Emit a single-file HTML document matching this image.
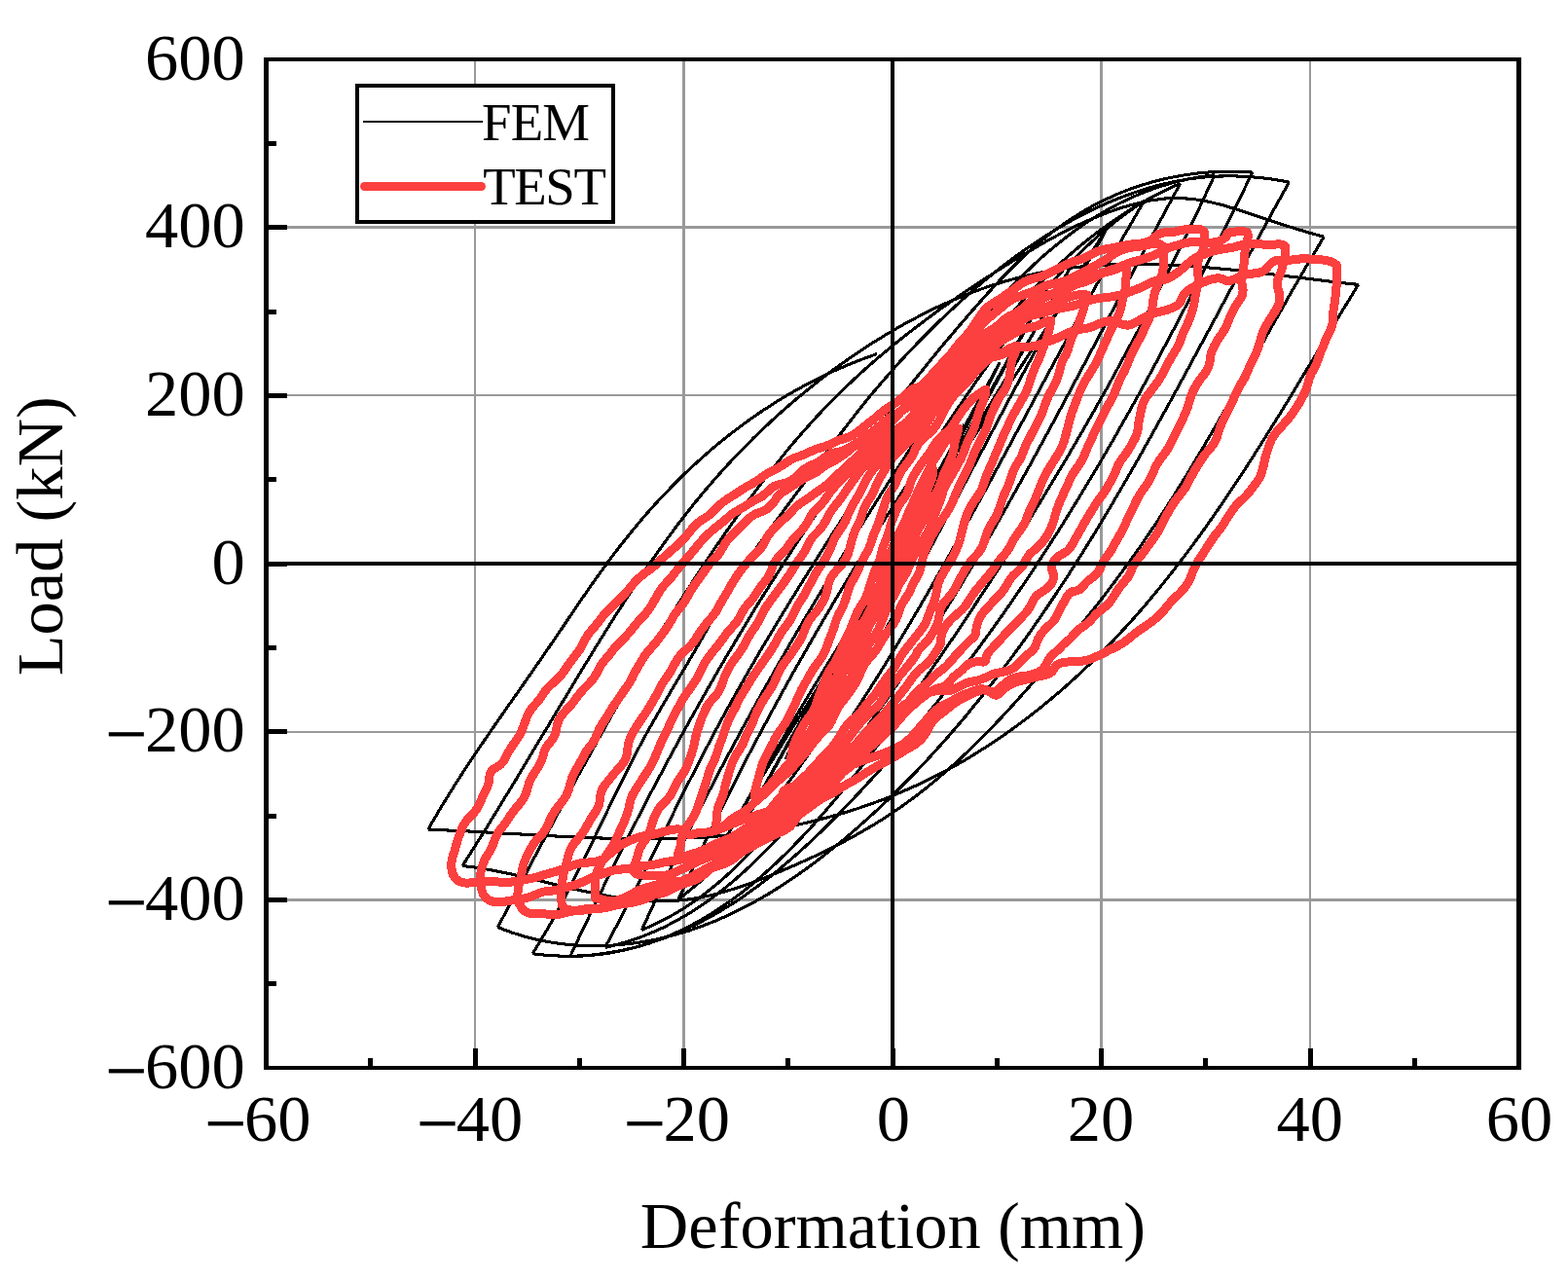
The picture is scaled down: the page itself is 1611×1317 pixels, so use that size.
<!DOCTYPE html>
<html><head><meta charset="utf-8"><title>Load-Deformation hysteresis: FEM vs TEST</title>
<style>
html,body{margin:0;padding:0;background:#fff;}
body{width:1611px;height:1317px;overflow:hidden;}
svg{display:block;}
text{font-family:"Liberation Serif","Times New Roman",serif;fill:#000;}
</style></head><body>
<svg width="1611" height="1317" viewBox="0 0 1611 1317">
<rect x="0" y="0" width="1611" height="1317" fill="#fff"/>
<path d="M488 61.0 V1097.0 M1346 61.0 V1097.0 M273.5 406 H1560.5 M273.5 752 H1560.5" stroke="#999999" stroke-width="2" fill="none"/>
<path d="M702.5 61.0 V1097.0 M1131.5 61.0 V1097.0 M273.5 233.5 H1560.5 M273.5 924.5 H1560.5" stroke="#999999" stroke-width="3" fill="none"/>
<path d="M917.0 579.0L953.8 506.0 M953.8 506.0L951.1 510.9L948.5 515.8L945.8 520.6L943.3 525.4L940.7 530.2L938.2 534.9L935.7 539.6L933.3 544.3L930.9 548.9L928.5 553.5L926.1 558.0L923.9 562.4L921.6 566.8L919.4 571.2L917.2 575.4L915.1 579.6L913.0 583.8L911.0 587.8L909.0 591.8L907.1 595.7L905.2 599.5L903.3 603.2L901.5 606.9L899.8 610.4L898.1 613.9L896.5 617.2L894.9 620.4L893.3 623.6L891.9 626.6L890.5 629.5L889.1 632.3L887.8 634.9L886.6 637.5L885.4 639.9L884.3 642.2L883.2 644.4L882.2 646.4L881.3 648.3L880.4 650.0 M880.4 650.0L884.3 642.7L888.2 635.4L892.1 628.2L895.9 621.0L899.7 613.9L903.5 606.8L907.2 599.8L910.8 592.9L914.4 586.0L917.9 579.2L921.4 572.5L924.9 565.9L928.3 559.3L931.6 552.9L934.8 546.6L938.0 540.3L941.2 534.2L944.3 528.2L947.3 522.3L950.2 516.5L953.1 510.8L955.9 505.3L958.6 499.9L961.2 494.7L963.8 489.6L966.3 484.7L968.7 479.9L971.0 475.2L973.3 470.8L975.4 466.4L977.5 462.3L979.5 458.4L981.3 454.6L983.1 451.0L984.8 447.6L986.4 444.4L987.9 441.4L989.3 438.6L990.6 436.0 M990.6 436.0L985.3 445.6L980.1 455.1L975.0 464.5L969.9 473.9L964.8 483.2L959.9 492.5L954.9 501.7L950.1 510.7L945.3 519.7L940.5 528.6L935.9 537.4L931.3 546.0L926.8 554.6L922.3 563.0L918.0 571.3L913.7 579.4L909.5 587.5L905.4 595.3L901.4 603.0L897.4 610.6L893.6 618.0L889.9 625.2L886.2 632.3L882.7 639.1L879.3 645.8L876.0 652.3L872.8 658.5L869.7 664.6L866.7 670.5L863.8 676.1L861.1 681.5L858.5 686.7L856.0 691.6L853.6 696.3L851.3 700.8L849.2 705.0L847.2 708.9L845.4 712.6L843.7 716.0 M843.7 716.0L850.1 704.2L856.5 692.4L862.8 680.7L869.0 669.1L875.2 657.6L881.4 646.2L887.5 634.9L893.5 623.7L899.5 612.7L905.4 601.7L911.2 591.0L916.9 580.3L922.6 569.8L928.1 559.5L933.6 549.3L939.0 539.3L944.3 529.5L949.4 519.8L954.5 510.4L959.5 501.1L964.3 492.1L969.0 483.2L973.6 474.6L978.1 466.2L982.5 458.0L986.7 450.1L990.7 442.4L994.7 435.0L998.5 427.9L1002.1 421.0L1005.6 414.3L1008.9 408.0L1012.1 401.9L1015.1 396.2L1017.9 390.7L1020.5 385.6L1023.0 380.7L1025.3 376.2L1027.4 372.0 M1027.4 372.0L1019.7 386.0L1012.0 400.0L1004.4 413.8L996.9 427.5L989.4 441.2L982.0 454.7L974.7 468.1L967.4 481.3L960.2 494.4L953.1 507.4L946.2 520.2L939.3 532.8L932.5 545.2L925.8 557.5L919.2 569.5L912.8 581.4L906.4 593.1L900.2 604.5L894.1 615.7L888.2 626.7L882.4 637.4L876.7 647.9L871.2 658.1L865.9 668.1L860.7 677.8L855.6 687.2L850.7 696.3L846.0 705.1L841.5 713.6L837.2 721.8L833.0 729.7L829.1 737.2L825.3 744.4L821.7 751.3L818.3 757.8L815.2 763.9L812.2 769.6L809.5 775.0L807.0 780.0 M807.0 780.0L815.7 764.0L824.3 748.0L833.0 732.2L841.6 716.5L850.1 701.0L858.6 685.6L867.1 670.4L875.4 655.4L883.7 640.5L891.9 625.8L900.1 611.3L908.1 597.0L916.0 582.9L923.9 569.1L931.6 555.4L939.2 542.0L946.6 528.9L954.0 516.0L961.2 503.3L968.2 490.9L975.1 478.8L981.8 467.0L988.3 455.5L994.7 444.3L1000.9 433.4L1006.9 422.8L1012.7 412.5L1018.3 402.6L1023.6 393.0L1028.8 383.8L1033.7 374.9L1038.4 366.4L1042.9 358.3L1047.1 350.6L1051.1 343.2L1054.7 336.3L1058.2 329.8L1061.3 323.7L1064.2 318.0 M1064.2 318.0L1054.3 336.0L1044.4 353.9L1034.5 371.6L1024.7 389.2L1014.9 406.6L1005.2 423.8L995.5 440.9L986.0 457.7L976.5 474.4L967.1 490.9L957.8 507.1L948.6 523.1L939.5 538.9L930.5 554.4L921.7 569.7L913.0 584.7L904.5 599.5L896.1 614.0L887.8 628.1L879.8 642.0L871.9 655.6L864.2 668.8L856.8 681.7L849.5 694.3L842.4 706.5L835.6 718.4L828.9 729.9L822.5 741.0L816.4 751.8L810.5 762.1L804.9 772.0L799.5 781.6L794.5 790.7L789.7 799.4L785.2 807.6L781.0 815.4L777.1 822.7L773.5 829.6L770.3 836.0 M770.3 836.0L781.1 816.2L791.8 796.5L802.6 777.0L813.4 757.7L824.2 738.7L834.9 719.8L845.6 701.1L856.3 682.7L866.9 664.5L877.4 646.5L887.8 628.8L898.2 611.4L908.4 594.2L918.5 577.3L928.5 560.7L938.4 544.4L948.1 528.4L957.6 512.7L967.0 497.4L976.2 482.3L985.2 467.7L994.0 453.3L1002.5 439.4L1010.9 425.7L1019.0 412.5L1026.8 399.7L1034.4 387.2L1041.7 375.2L1048.8 363.6L1055.5 352.4L1061.9 341.6L1068.0 331.3L1073.8 321.4L1079.3 311.9L1084.4 303.0L1089.1 294.5L1093.5 286.5L1097.4 279.0L1101.0 272.0 M1101.0 272.0L1089.1 293.6L1077.1 314.9L1065.2 336.1L1053.2 357.0L1041.2 377.8L1029.3 398.3L1017.4 418.5L1005.6 438.5L993.8 458.3L982.1 477.7L970.5 496.9L959.0 515.9L947.6 534.5L936.3 552.8L925.2 570.8L914.2 588.5L903.4 605.8L892.7 622.8L882.3 639.4L872.1 655.7L862.0 671.6L852.3 687.2L842.7 702.3L833.4 717.1L824.4 731.4L815.7 745.3L807.2 758.8L799.1 771.9L791.3 784.5L783.8 796.6L776.6 808.3L769.9 819.5L763.4 830.3L757.4 840.5L751.8 850.2L746.6 859.5L741.8 868.2L737.4 876.4L733.5 884.0 M733.5 884.0L746.1 860.8L758.9 837.8L771.7 815.1L784.5 792.6L797.4 770.4L810.3 748.5L823.2 726.9L836.1 705.5L848.9 684.4L861.7 663.7L874.5 643.3L887.1 623.1L899.7 603.4L912.1 583.9L924.4 564.8L936.6 546.1L948.6 527.8L960.4 509.8L972.0 492.2L983.4 474.9L994.6 458.1L1005.5 441.7L1016.2 425.7L1026.6 410.2L1036.7 395.0L1046.5 380.4L1055.9 366.1L1065.0 352.3L1073.8 339.0L1082.1 326.2L1090.1 313.8L1097.7 302.0L1104.8 290.6L1111.5 279.7L1117.7 269.4L1123.5 259.6L1128.7 250.3L1133.5 241.6L1137.7 233.4 M1137.7 233.4L1132.2 242.2L1126.8 251.1L1121.4 259.9L1116.0 268.8L1110.7 277.8L1105.5 286.7L1100.2 295.7L1095.0 304.7L1089.9 313.8L1084.7 322.8L1079.6 331.9L1074.5 341.0L1069.5 350.1L1064.5 359.3L1059.5 368.4L1054.5 377.6L1049.5 386.7L1044.6 395.9L1039.6 405.1L1034.7 414.3L1029.8 423.6L1024.9 432.8L1020.0 442.0L1015.1 451.3L1010.3 460.5L1005.4 469.8L1000.5 479.0L995.6 488.3L990.7 497.5L985.9 506.8L981.0 516.0L976.1 525.2L971.2 534.5L966.3 543.7L961.3 552.9L956.4 562.1L951.4 571.4L946.5 580.5L941.5 589.7L936.4 598.9L931.4 608.0L926.3 617.2L921.2 626.3L916.1 635.4L910.9 644.5L905.8 653.5L900.5 662.6L895.3 671.6L890.0 680.6L884.6 689.5L879.3 698.5L873.8 707.4L868.4 716.2L862.9 725.1L857.3 733.9L851.7 742.7L846.0 751.5L840.3 760.2L834.5 768.8L828.7 777.5L822.8 786.1L816.8 794.6L810.7 803.1L804.6 811.4L798.3 819.8L792.0 828.0L785.5 836.1L779.0 844.1L772.3 852.1L765.4 859.9L758.5 867.6L751.4 875.1L744.1 882.5L736.7 889.8L729.1 896.9L721.4 903.9L713.5 910.7L705.4 917.3L697.1 923.8 M697.1 923.8L701.6 913.8L706.2 903.8L710.8 893.8L715.5 883.9L720.2 874.0L724.9 864.0L729.7 854.1L734.5 844.3L739.4 834.4L744.3 824.6L749.2 814.7L754.1 804.9L759.1 795.1L764.2 785.3L769.2 775.6L774.3 765.8L779.5 756.1L784.7 746.4L789.9 736.7L795.1 727.0L800.4 717.4L805.7 707.7L811.0 698.1L816.4 688.5L821.8 678.9L827.3 669.3L832.7 659.8L838.2 650.2L843.8 640.7L849.4 631.2L855.0 621.7L860.6 612.2L866.3 602.8L871.9 593.3L877.7 583.9L883.4 574.5L889.2 565.1L895.0 555.8L900.9 546.4L906.7 537.1L912.6 527.8L918.6 518.5L924.5 509.2L930.5 499.9L936.5 490.7L942.5 481.4L948.6 472.2L954.7 463.0L960.8 453.8L966.9 444.7L973.1 435.5L979.3 426.4L985.5 417.3L991.8 408.2L998.0 399.1L1004.3 390.0L1010.6 381.0L1017.0 372.0L1023.4 363.0L1029.9 354.1L1036.4 345.3L1043.0 336.5L1049.7 327.8L1056.5 319.1L1063.4 310.6L1070.4 302.2L1077.5 293.9L1084.7 285.7L1092.1 277.7L1099.6 269.8L1107.3 262.0L1115.2 254.4L1123.2 247.0L1131.4 239.7L1139.8 232.7L1148.4 225.8L1157.2 219.2L1166.2 212.7L1175.5 206.5 M1175.5 206.5L1169.6 216.6L1163.8 226.7L1158.0 236.8L1152.2 246.9L1146.5 257.1L1140.8 267.2L1135.1 277.4L1129.4 287.6L1123.8 297.8L1118.1 308.0L1112.5 318.2L1106.9 328.5L1101.3 338.7L1095.8 349.0L1090.2 359.2L1084.7 369.5L1079.1 379.8L1073.6 390.0L1068.1 400.3L1062.5 410.6L1057.0 420.9L1051.5 431.2L1045.9 441.4L1040.4 451.7L1034.9 462.0L1029.3 472.3L1023.7 482.5L1018.2 492.8L1012.6 503.0L1007.0 513.3L1001.4 523.5L995.7 533.7L990.1 543.9L984.4 554.1L978.7 564.3L973.0 574.5L967.2 584.7L961.4 594.8L955.6 604.9L949.7 615.0L943.9 625.1L937.9 635.2L932.0 645.2L926.0 655.2L919.9 665.2L913.9 675.2L907.7 685.2L901.6 695.1L895.3 705.0L889.1 714.8L882.7 724.7L876.4 734.5L869.9 744.2L863.5 754.0L856.9 763.7L850.3 773.4L843.6 783.0L836.9 792.6L830.1 802.2L823.2 811.6L816.2 821.1L809.2 830.4L801.9 839.6L794.6 848.6L787.1 857.5L779.5 866.3L771.6 874.8L763.6 883.1L755.4 891.2L747.0 899.1L738.3 906.7L729.4 914.0L720.3 921.0L710.9 927.6L701.2 934.0L691.2 939.9L680.9 945.5L670.3 950.7L659.4 955.5 M659.4 955.5L664.4 944.4L669.5 933.3L674.7 922.2L679.9 911.2L685.1 900.2L690.3 889.3L695.7 878.3L701.0 867.4L706.4 856.5L711.8 845.6L717.3 834.8L722.8 824.0L728.4 813.2L734.0 802.4L739.6 791.6L745.3 780.9L751.0 770.2L756.8 759.5L762.5 748.8L768.4 738.2L774.2 727.6L780.1 716.9L786.1 706.3L792.0 695.8L798.0 685.2L804.1 674.7L810.2 664.1L816.3 653.6L822.4 643.1L828.6 632.6L834.8 622.2L841.0 611.7L847.3 601.3L853.6 590.8L860.0 580.4L866.3 570.0L872.7 559.6L879.1 549.2L885.6 538.8L892.1 528.5L898.6 518.1L905.1 507.8L911.7 497.4L918.3 487.1L925.0 476.8L931.7 466.5L938.4 456.3L945.2 446.1L952.1 436.0L959.0 425.9L966.0 415.8L973.1 405.9L980.3 396.0L987.5 386.2L994.8 376.4L1002.3 366.8L1009.8 357.2L1017.4 347.7L1025.1 338.4L1033.0 329.1L1040.9 320.0L1049.0 311.0L1057.2 302.1L1065.6 293.5L1074.1 284.9L1082.8 276.6L1091.6 268.4L1100.6 260.4L1109.8 252.6L1119.1 245.1L1128.7 237.7L1138.4 230.6L1148.4 223.8L1158.6 217.1L1168.9 210.8L1179.5 204.7L1190.4 199.0L1201.5 193.5L1212.8 188.3 M1212.8 188.3L1206.7 199.4L1200.7 210.6L1194.7 221.8L1188.7 233.0L1182.7 244.2L1176.7 255.4L1170.8 266.6L1164.8 277.9L1158.9 289.1L1152.9 300.4L1147.0 311.6L1141.0 322.9L1135.1 334.2L1129.2 345.4L1123.2 356.7L1117.3 367.9L1111.3 379.2L1105.3 390.4L1099.3 401.7L1093.3 412.9L1087.3 424.1L1081.3 435.4L1075.2 446.6L1069.1 457.8L1063.0 468.9L1056.9 480.1L1050.7 491.2L1044.5 502.4L1038.3 513.5L1032.0 524.6L1025.7 535.6L1019.4 546.7L1013.0 557.7L1006.5 568.7L1000.1 579.6L993.5 590.5L987.0 601.4L980.3 612.3L973.7 623.1L966.9 633.9L960.1 644.7L953.3 655.4L946.4 666.1L939.4 676.8L932.3 687.4L925.2 697.9L918.0 708.4L910.8 718.9L903.4 729.3L896.0 739.7L888.6 750.0L881.0 760.3L873.3 770.5L865.6 780.7L857.8 790.8L849.9 800.9L841.9 810.9L833.8 820.8L825.6 830.7L817.3 840.5L808.9 850.1L800.3 859.6L791.6 868.9L782.7 878.0L773.6 886.9L764.4 895.5L755.0 903.8L745.3 911.9L735.4 919.6L725.3 927.0L714.9 934.0L704.3 940.6L693.4 946.7L682.2 952.5L670.7 957.7L659.0 962.4L646.8 966.7L634.4 970.3L621.6 973.4 M621.6 973.4L627.9 961.8L634.0 950.2L640.1 938.5L646.2 926.7L652.2 915.0L658.1 903.2L664.1 891.4L669.9 879.5L675.8 867.7L681.7 855.9L687.6 844.0L693.4 832.2L699.3 820.3L705.2 808.5L711.2 796.7L717.2 785.0L723.2 773.2L729.4 761.5L735.5 749.9L741.8 738.3L748.1 726.7L754.5 715.2L761.0 703.7L767.5 692.3L774.1 680.9L780.7 669.5L787.4 658.2L794.2 646.9L801.0 635.6L807.8 624.4L814.7 613.2L821.6 602.0L828.6 590.8L835.6 579.6L842.6 568.5L849.7 557.3L856.8 546.2L863.9 535.1L871.0 524.0L878.2 512.9L885.3 501.7L892.5 490.6L899.7 479.6L907.0 468.5L914.3 457.5L921.6 446.4L929.0 435.5L936.5 424.6L944.1 413.7L951.7 402.9L959.5 392.1L967.3 381.4L975.2 370.8L983.3 360.3L991.5 349.9L999.8 339.6L1008.3 329.3L1016.9 319.2L1025.7 309.3L1034.6 299.5L1043.8 290.0L1053.1 280.6L1062.6 271.5L1072.3 262.7L1082.3 254.2L1092.4 246.0L1102.8 238.1L1113.4 230.6L1124.3 223.5L1135.4 216.8L1146.8 210.6L1158.5 204.8L1170.4 199.5L1182.7 194.8L1195.2 190.6L1207.9 186.9L1221.0 183.9L1234.4 181.5L1248.0 179.7 M1248.0 179.7L1242.2 192.2L1236.4 204.7L1230.6 217.2L1224.6 229.6L1218.7 242.0L1212.7 254.4L1206.6 266.7L1200.5 278.9L1194.3 291.1L1188.1 303.3L1181.9 315.5L1175.5 327.6L1169.2 339.7L1162.8 351.7L1156.3 363.7L1149.8 375.7L1143.3 387.7L1136.7 399.6L1130.0 411.5L1123.3 423.3L1116.6 435.1L1109.8 446.9L1102.9 458.7L1096.1 470.4L1089.1 482.1L1082.1 493.8L1075.1 505.4L1068.0 517.1L1060.9 528.7L1053.8 540.2L1046.5 551.8L1039.3 563.3L1032.0 574.8L1024.6 586.3L1017.2 597.7L1009.8 609.2L1002.3 620.6L994.8 632.0L987.2 643.3L979.6 654.7L971.9 666.0L964.2 677.3L956.4 688.6L948.6 699.9L940.8 711.2L932.9 722.4L924.9 733.6L916.9 744.8L908.8 755.9L900.7 767.0L892.4 778.0L884.0 789.0L875.6 799.8L866.9 810.6L858.2 821.2L849.3 831.7L840.3 842.1L831.1 852.3L821.7 862.4L812.1 872.2L802.4 881.8L792.4 891.2L782.2 900.3L771.9 909.1L761.3 917.5L750.5 925.5L739.4 933.1L728.1 940.3L716.6 947.1L704.8 953.3L692.8 959.0L680.4 964.2L667.8 968.8L654.9 972.7L641.7 976.1L628.3 978.7L614.5 980.7L600.3 981.9L585.9 982.4 M585.9 982.4L591.9 969.6L597.9 956.8L604.0 944.1L610.2 931.3L616.3 918.6L622.5 905.9L628.8 893.2L635.1 880.5L641.4 867.8L647.8 855.2L654.2 842.6L660.7 830.0L667.2 817.4L673.8 804.8L680.5 792.3L687.1 779.8L693.9 767.4L700.6 754.9L707.5 742.5L714.4 730.1L721.3 717.8L728.3 705.5L735.4 693.2L742.5 680.9L749.7 668.7L756.9 656.5L764.2 644.4L771.5 632.3L778.9 620.2L786.4 608.2L794.0 596.2L801.6 584.2L809.2 572.3L817.0 560.4L824.8 548.6L832.6 536.8L840.5 525.1L848.5 513.4L856.6 501.8L864.8 490.2L873.0 478.7L881.2 467.2L889.6 455.7L898.0 444.3L906.5 433.0L915.1 421.7L923.8 410.5L932.5 399.3L941.3 388.2L950.2 377.2L959.2 366.2L968.2 355.2L977.3 344.4L986.5 333.5L995.8 322.8L1005.2 312.1L1014.7 301.5L1024.3 291.0L1034.1 280.8L1044.1 270.8L1054.3 261.1L1064.8 251.7L1075.6 242.8L1086.8 234.3L1098.3 226.3L1110.1 218.8L1122.3 211.8L1134.8 205.4L1147.6 199.6L1160.6 194.4L1174.0 189.9L1187.5 185.9L1201.3 182.7L1215.3 180.1L1229.4 178.1L1243.6 176.8L1257.9 176.2L1272.3 176.3L1286.7 177.1 M1286.7 177.1L1280.4 190.2L1274.0 203.2L1267.6 216.3L1261.2 229.3L1254.8 242.3L1248.3 255.3L1241.8 268.3L1235.3 281.3L1228.7 294.3L1222.1 307.2L1215.4 320.1L1208.7 333.0L1201.9 345.9L1195.1 358.7L1188.3 371.5L1181.4 384.3L1174.4 397.1L1167.4 409.8L1160.4 422.5L1153.2 435.1L1146.1 447.7L1138.8 460.3L1131.5 472.9L1124.1 485.4L1116.7 497.8L1109.2 510.2L1101.6 522.6L1094.0 534.9L1086.3 547.2L1078.5 559.4L1070.6 571.6L1062.6 583.7L1054.6 595.7L1046.5 607.8L1038.3 619.7L1030.0 631.6L1021.6 643.4L1013.1 655.2L1004.6 666.9L995.9 678.5L987.2 690.1L978.3 701.6L969.4 713.1L960.4 724.4L951.2 735.7L942.0 747.0L932.6 758.1L923.1 769.2L913.6 780.2L903.9 791.1L894.1 801.9L884.2 812.7L874.1 823.3L864.0 833.9L853.7 844.3L843.3 854.6L832.7 864.7L821.9 874.6L811.0 884.2L799.9 893.6L788.6 902.7L777.1 911.4L765.4 919.8L753.5 927.7L741.3 935.3L728.9 942.4L716.2 949.1L703.3 955.2L690.1 960.8L676.7 965.8L663.1 970.2L649.3 974.0L635.2 977.1L621.0 979.5L606.5 981.2L591.9 982.1L577.1 982.2L562.2 981.4L547.1 979.8 M547.1 979.8L555.0 967.0L562.6 954.1L569.9 941.1L577.0 928.0L584.0 914.7L590.7 901.4L597.4 888.1L604.0 874.7L610.5 861.2L616.9 847.8L623.4 834.3L629.9 820.9L636.4 807.5L643.0 794.1L649.8 780.8L656.7 767.6L663.8 754.4L671.1 741.4L678.5 728.5L686.1 715.6L693.7 702.7L701.4 689.9L709.0 677.0L716.5 664.1L723.9 651.1L731.2 638.1L738.5 625.1L745.9 612.2L753.4 599.3L761.2 586.7L769.4 574.3L777.8 562.1L786.5 550.0L795.3 538.0L804.1 526.0L813.0 514.0L821.9 501.9L830.7 489.8L839.6 477.7L848.5 465.6L857.5 453.6L866.6 441.6L875.7 429.8L885.0 418.1L894.3 406.5L903.9 395.1L913.6 383.9L923.4 372.9L933.5 362.1L943.7 351.4L954.1 340.8L964.7 330.4L975.6 320.1L986.6 309.9L997.9 299.9L1009.3 290.1L1021.0 280.6L1032.8 271.3L1044.9 262.3L1057.2 253.6L1069.7 245.3L1082.4 237.3L1095.2 229.7L1108.3 222.6L1121.6 215.9L1135.1 209.6L1148.8 203.9L1162.7 198.8L1176.8 194.1L1191.1 190.1L1205.6 186.8L1220.3 184.1L1235.0 182.2L1249.9 181.1L1264.8 180.8L1279.8 181.3L1294.8 182.5L1309.7 184.5L1324.5 187.1 M1324.5 187.1L1317.2 200.2L1309.9 213.4L1302.6 226.6L1295.4 239.9L1288.1 253.2L1280.9 266.5L1273.7 279.9L1266.5 293.3L1259.3 306.8L1252.1 320.3L1244.9 333.7L1237.6 347.2L1230.4 360.7L1223.1 374.2L1215.8 387.7L1208.4 401.2L1201.1 414.7L1193.7 428.2L1186.2 441.6L1178.7 455.0L1171.1 468.4L1163.5 481.8L1155.9 495.1L1148.1 508.4L1140.3 521.7L1132.4 534.8L1124.5 548.0L1116.4 561.0L1108.3 574.0L1100.0 587.0L1091.7 599.8L1083.3 612.6L1074.8 625.3L1066.1 637.9L1057.4 650.5L1048.5 662.9L1039.5 675.2L1030.4 687.4L1021.1 699.6L1011.8 711.6L1002.2 723.4L992.6 735.2L982.7 746.8L972.8 758.3L962.6 769.7L952.4 780.9L941.9 792.0L931.3 802.9L920.5 813.7L909.5 824.3L898.4 834.7L887.0 845.0L875.5 855.1L863.8 865.0L851.8 874.7L839.7 884.1L827.3 893.3L814.8 902.1L802.0 910.5L789.1 918.6L775.8 926.2L762.4 933.3L748.8 940.0L734.9 946.1L720.8 951.6L706.4 956.6L691.8 960.8L677.0 964.4L661.9 967.4L646.8 969.5L631.5 971.0L616.2 971.7L600.9 971.5L585.7 970.6L570.5 968.8L555.4 966.1L540.5 962.5L525.8 958.0L511.4 952.6 M511.4 952.6L518.6 939.0L525.7 925.3L532.9 911.7L540.1 898.0L547.2 884.4L554.4 870.8L561.7 857.2L568.9 843.6L576.2 830.0L583.5 816.4L590.8 802.8L598.2 789.3L605.7 775.8L613.1 762.3L620.7 748.8L628.2 735.4L635.9 722.0L643.6 708.7L651.3 695.4L659.1 682.1L667.0 668.9L675.0 655.7L683.1 642.5L691.2 629.5L699.5 616.4L707.8 603.5L716.2 590.5L724.7 577.7L733.3 564.9L742.0 552.2L750.9 539.5L759.8 526.9L768.9 514.4L778.1 502.0L787.4 489.7L796.9 477.5L806.5 465.5L816.4 453.6L826.5 442.0L836.8 430.5L847.3 419.3L858.0 408.4L869.0 397.6L880.2 387.1L891.6 376.8L903.2 366.7L915.0 356.8L927.0 347.2L939.1 337.7L951.4 328.4L963.8 319.2L976.4 310.3L989.1 301.5L1001.9 292.9L1014.9 284.4L1027.9 276.1L1041.1 267.9L1054.4 259.9L1067.7 252.1L1081.2 244.5L1094.9 237.4L1108.7 230.6L1122.7 224.4L1137.0 218.7L1151.5 213.7L1166.3 209.4L1181.3 206.1L1196.4 204.0L1211.5 203.4L1226.7 204.6L1241.8 207.2L1256.8 210.9L1271.8 215.4L1286.7 220.3L1301.5 225.4L1316.2 230.3L1330.9 234.8L1345.5 239.2L1360.2 243.3 M1360.2 243.3L1352.4 256.4L1344.6 269.5L1336.9 282.7L1329.2 295.9L1321.6 309.2L1314.1 322.6L1306.5 335.9L1299.0 349.3L1291.5 362.7L1283.9 376.1L1276.4 389.5L1268.8 402.9L1261.3 416.2L1253.6 429.6L1245.9 442.9L1238.2 456.1L1230.3 469.3L1222.4 482.5L1214.4 495.6L1206.3 508.6L1198.1 521.5L1189.8 534.4L1181.3 547.1L1172.7 559.7L1163.9 572.2L1154.9 584.6L1145.8 596.9L1136.6 609.1L1127.2 621.2L1117.7 633.2L1108.1 645.1L1098.4 656.9L1088.6 668.8L1078.8 680.5L1068.8 692.3L1058.8 703.9L1048.6 715.4L1038.3 726.9L1027.9 738.1L1017.3 749.2L1006.6 760.1L995.6 770.8L984.5 781.3L973.1 791.5L961.6 801.4L949.7 811.0L937.7 820.3L925.3 829.2L912.7 837.8L899.8 846.0L886.6 853.8L873.2 861.3L859.6 868.5L845.8 875.4L831.8 882.0L817.7 888.3L803.5 894.5L789.2 900.4L774.8 906.0L760.3 911.1L745.7 915.7L731.0 919.6L716.3 922.6L701.4 924.7L686.4 925.7L671.4 925.7L656.3 924.7L641.1 923.0L625.9 920.7L610.7 917.8L595.5 914.6L580.3 911.1L565.1 907.4L549.9 903.7L534.8 900.1L519.8 896.8L504.8 893.8L489.9 891.3L475.2 889.4 M475.2 889.4L483.4 876.5L491.5 863.6L499.6 850.7L507.6 837.7L515.5 824.7L523.5 811.7L531.4 798.7L539.2 785.6L547.1 772.5L554.9 759.5L562.8 746.4L570.6 733.3L578.5 720.2L586.4 707.1L594.3 694.0L602.2 681.0L610.2 667.9L618.3 654.9L626.4 641.9L634.5 629.0L642.8 616.1L651.2 603.3L659.6 590.5L668.3 577.9L677.0 565.4L685.9 553.0L695.0 540.7L704.3 528.7L713.7 516.7L723.4 505.0L733.3 493.5L743.4 482.1L753.7 470.9L764.3 460.0L775.0 449.2L786.0 438.7L797.1 428.3L808.5 418.2L820.1 408.3L832.0 398.6L844.0 389.1L856.2 379.9L868.7 370.9L881.4 362.2L894.2 353.7L907.3 345.6L920.6 337.7L934.0 330.2L947.6 323.1L961.3 316.3L975.3 310.0L989.3 304.1L1003.5 298.6L1017.9 293.6L1032.4 289.1L1046.9 285.1L1061.7 281.6L1076.5 278.7L1091.4 276.3L1106.4 274.4L1121.5 273.0L1136.6 272.0L1151.8 271.5L1167.1 271.3L1182.4 271.5L1197.7 272.0L1213.1 272.8L1228.5 273.8L1243.8 275.1L1259.2 276.5L1274.6 278.1L1289.9 279.8L1305.2 281.6L1320.4 283.5L1335.6 285.3L1350.7 287.2L1365.8 289.0L1380.7 290.8L1395.6 292.4 M1395.6 292.4L1387.7 305.3L1379.8 318.3L1371.9 331.3L1364.0 344.3L1356.1 357.4L1348.2 370.4L1340.3 383.5L1332.4 396.6L1324.5 409.7L1316.5 422.7L1308.4 435.7L1300.3 448.7L1292.1 461.7L1283.9 474.6L1275.5 487.4L1267.1 500.2L1258.6 512.9L1249.9 525.6L1241.2 538.1L1232.3 550.6L1223.2 562.9L1214.0 575.1L1204.7 587.2L1195.2 599.2L1185.6 611.0L1175.7 622.7L1165.7 634.2L1155.4 645.6L1145.0 656.8L1134.3 667.8L1123.5 678.6L1112.4 689.2L1101.1 699.6L1089.6 709.8L1077.9 719.7L1066.0 729.4L1053.9 738.8L1041.6 747.9L1029.1 756.8L1016.4 765.3L1003.5 773.5L990.5 781.4L977.2 788.9L963.8 796.0L950.2 802.8L936.4 809.2L922.5 815.2L908.4 820.9L894.1 826.2L879.8 831.1L865.3 835.6L850.6 839.7L835.9 843.5L821.1 846.9L806.2 849.9L791.2 852.6L776.1 854.9L761.0 856.8L745.8 858.3L730.5 859.6L715.2 860.5L699.9 861.2L684.6 861.6L669.2 861.8L653.8 861.8L638.4 861.6L623.0 861.2L607.6 860.7L592.2 860.0L576.8 859.3L561.4 858.5L546.1 857.6L530.8 856.8L515.5 855.9L500.3 855.0L485.1 854.2L470.0 853.4L454.9 852.8L439.9 852.2 M439.9 852.2L444.2 844.6L448.6 837.1L453.0 829.6L457.5 822.2L462.1 814.8L466.7 807.4L471.4 800.1L476.1 792.8L480.9 785.6L485.7 778.3L490.5 771.1L495.4 763.9L500.2 756.8L505.2 749.6L510.1 742.5L515.1 735.4L520.0 728.2L525.0 721.1L530.0 714.0L535.0 706.9L539.9 699.8L544.9 692.7L549.9 685.6L554.8 678.4L559.7 671.3L564.6 664.1L569.5 657.0L574.4 649.8L579.3 642.6L584.1 635.4L589.0 628.2L593.8 621.0L598.7 613.9L603.7 606.7L608.6 599.6L613.7 592.5L618.7 585.5L623.8 578.5L629.0 571.5L634.3 564.6L639.6 557.7L645.1 550.9L650.5 544.2L656.1 537.5L661.7 530.9L667.4 524.4L673.2 517.9L679.1 511.5L685.1 505.2L691.1 499.0L697.2 492.8L703.4 486.7L709.7 480.8L716.1 474.9L722.6 469.1L729.1 463.3L735.8 457.7L742.5 452.2L749.3 446.8L756.2 441.5L763.1 436.3L770.2 431.2L777.3 426.2L784.5 421.3L791.8 416.6L799.1 411.9L806.6 407.4L814.1 403.0L821.6 398.8L829.3 394.6L837.0 390.6L844.8 386.8L852.6 383.0L860.5 379.4L868.5 376.0L876.5 372.7L884.6 369.5L892.8 366.5L901.0 363.6" fill="none" stroke="#000" stroke-width="3.1" stroke-linejoin="round" stroke-linecap="butt" shape-rendering="crispEdges"/>
<path d="M895.0 625.0L896.0 621.1L897.2 617.4L898.6 613.7L899.9 609.9L901.3 606.2L902.8 602.5L904.5 598.9L906.4 595.4L908.3 591.9L910.2 588.4L912.1 585.0L914.1 581.6L916.2 578.3L918.4 574.9L920.4 571.5L922.3 568.1L924.1 564.5L925.7 560.9L927.2 557.3L928.7 553.6L930.1 549.9L931.6 546.3L933.1 542.6L934.6 539.0L936.0 535.3L937.3 531.5L938.4 527.7L939.3 523.9L940.0 520.0 M940.0 520.0L938.7 523.8L937.5 527.5L936.3 531.3L935.4 535.2L934.6 539.1L933.9 543.1L933.0 547.1L931.8 550.9L930.2 554.6L928.1 558.0L925.8 561.3L923.5 564.6L921.5 568.1L919.8 571.7L918.3 575.4L916.7 579.0L914.9 582.6L913.2 586.2L911.5 589.7L909.8 593.3L908.3 597.0L906.8 600.7L905.3 604.4L903.7 608.1L902.0 611.6L900.2 615.2L898.2 618.6L896.4 622.2L894.8 625.8L893.5 629.6L892.5 633.4L891.5 637.3L890.4 641.2L889.1 644.9L887.6 648.5L885.9 652.1L884.3 655.8L882.7 659.4L881.2 663.0L879.7 666.8L878.5 670.5L877.2 674.3L876.1 678.1L875.3 682.0L875.0 686.0L875.0 690.0 M875.0 690.0L875.8 686.1L876.5 682.2L877.3 678.3L878.3 674.4L879.6 670.6L881.3 667.0L883.2 663.5L885.2 660.0L887.1 656.6L888.9 653.0L890.4 649.2L891.9 645.5L893.6 642.0L895.6 638.5L897.7 635.1L899.7 631.6L901.7 628.1L903.5 624.6L905.3 621.0L906.8 617.3L908.3 613.6L909.8 609.9L911.5 606.3L913.4 602.8L915.4 599.3L917.3 595.8L918.8 592.2L920.0 588.3L920.9 584.3L922.0 580.4L923.5 576.7L925.2 573.1L926.8 569.4L928.2 565.7L929.7 562.0L931.3 558.4L933.1 554.8L935.0 551.3L936.7 547.7L938.1 544.0L939.4 540.2L940.6 536.4L942.0 532.7L943.7 529.1L945.4 525.5L947.2 521.9L948.9 518.3L950.1 514.5L951.2 510.7L952.1 506.8L953.2 503.0L954.4 499.3L955.9 495.5L957.4 491.8L958.4 488.0L958.6 484.0L958.0 480.0 M958.0 480.0L957.0 483.9L956.3 487.8L955.6 491.7L954.6 495.6L953.1 499.3L951.5 503.0L949.7 506.6L947.7 510.0L945.7 513.5L943.9 517.1L942.3 520.7L941.0 524.5L939.7 528.2L938.2 531.9L936.4 535.5L934.2 538.8L932.1 542.2L930.2 545.7L928.7 549.4L927.3 553.2L925.9 556.9L924.4 560.6L922.7 564.2L920.8 567.7L919.0 571.2L917.4 574.9L916.0 578.6L914.4 582.2L912.6 585.8L910.8 589.3L909.1 592.9L907.6 596.6L906.1 600.3L904.5 604.0L902.7 607.5L900.8 611.0L899.1 614.6L897.4 618.2L895.9 621.9L894.4 625.6L892.7 629.2L890.8 632.7L888.8 636.1L886.5 639.4L884.3 642.8L882.3 646.2L880.5 649.7L878.9 653.4L877.4 657.1L875.7 660.7L873.9 664.2L871.9 667.7L869.8 671.1L867.9 674.6L866.4 678.2L865.0 682.0L863.6 685.8L862.1 689.4L860.4 693.0L858.5 696.5L856.4 699.9L854.4 703.4L852.4 706.9L850.7 710.6L849.3 714.3L848.2 718.2L847.5 722.2L847.1 726.2L846.7 730.2L846.1 734.1L845.5 738.1L845.0 742.0 M845.0 742.0L845.7 738.1L846.2 734.1L846.6 730.1L847.2 726.1L848.6 722.3L850.5 718.7L852.5 715.2L854.3 711.6L855.9 708.0L857.5 704.3L859.3 700.8L861.4 697.3L863.5 693.9L865.5 690.5L867.3 687.0L869.0 683.3L870.6 679.7L872.4 676.1L874.3 672.7L876.3 669.2L878.2 665.7L880.2 662.2L882.0 658.7L883.6 655.0L884.9 651.2L886.4 647.5L888.1 643.9L889.8 640.3L891.4 636.7L892.6 632.9L893.5 628.9L894.5 625.0L895.6 621.2L897.1 617.5L898.8 613.9L900.4 610.3L901.9 606.6L903.1 602.8L904.2 598.9L905.3 595.1L906.5 591.3L907.8 587.5L909.0 583.7L910.2 579.9L911.5 576.1L912.8 572.4L914.3 568.7L916.0 565.1L917.5 561.4L919.0 557.7L920.5 554.0L922.2 550.3L924.0 546.8L926.0 543.3L927.8 539.8L929.6 536.2L931.1 532.5L932.6 528.8L934.1 525.1L935.7 521.5L937.4 517.9L939.1 514.3L940.7 510.6L942.3 507.0L943.9 503.3L945.8 499.8L947.6 496.3L949.4 492.7L951.1 489.1L952.7 485.4L954.4 481.8L956.2 478.2L958.2 474.7L960.3 471.4L962.5 468.0L964.7 464.7L966.7 461.2L968.8 457.8L971.0 454.5L973.5 451.3L976.4 448.4L979.3 445.6L982.2 442.8L985.0 440.0 M985.0 440.0L984.0 443.9L982.8 447.7L981.6 451.5L980.8 455.4L980.2 459.4L979.5 463.4L978.4 467.3L977.0 471.1L975.4 474.8L973.7 478.4L971.9 482.0L970.2 485.6L968.8 489.4L967.4 493.1L966.0 496.9L964.5 500.6L962.7 504.2L960.9 507.8L959.2 511.4L957.5 515.1L956.0 518.8L954.6 522.5L953.0 526.2L951.4 529.9L949.6 533.5L947.6 537.0L945.6 540.4L943.6 543.9L941.7 547.5L940.0 551.1L938.4 554.8L936.8 558.4L935.0 562.0L933.2 565.6L931.3 569.1L929.4 572.7L927.5 576.2L925.6 579.7L923.8 583.3L922.1 586.9L920.4 590.5L918.5 594.1L916.5 597.5L914.5 601.0L912.6 604.5L910.8 608.1L909.0 611.7L907.2 615.3L905.4 618.9L903.6 622.4L901.9 626.0L900.0 629.6L897.9 633.0L895.9 636.5L894.1 640.1L892.6 643.8L891.3 647.6L890.0 651.4L888.6 655.3L887.1 659.0L885.4 662.6L883.5 666.1L881.2 669.5L878.6 672.6L876.0 675.8L873.4 678.9L871.0 682.1L868.9 685.6L867.2 689.2L865.9 693.0L864.6 696.9L863.0 700.6L861.1 704.1L858.8 707.4L856.4 710.7L854.2 714.0L852.1 717.4L850.0 720.8L847.8 724.2L845.5 727.5L843.2 730.8L841.2 734.2L839.4 737.8L837.8 741.5L836.1 745.2L834.3 748.8L832.3 752.3L830.1 755.6L827.9 759.0L825.8 762.4L823.8 765.9L821.8 769.4L819.3 772.5L816.6 775.5L814.0 778.6L812.0 782.0 M812.0 782.0L812.8 778.1L813.4 774.1L814.2 770.2L815.2 766.3L816.6 762.5L818.3 758.9L820.1 755.3L821.9 751.7L823.7 748.2L825.7 744.6L827.8 741.2L830.2 737.9L832.6 734.6L834.8 731.3L836.7 727.8L838.1 724.1L839.5 720.3L840.8 716.4L842.2 712.6L843.6 708.9L845.1 705.1L846.5 701.4L848.0 697.6L849.6 694.0L851.4 690.4L853.5 687.0L855.7 683.6L857.8 680.2L859.8 676.7L861.6 673.1L863.2 669.5L864.7 665.7L866.2 662.0L867.9 658.4L869.7 654.8L871.5 651.2L873.2 647.6L874.7 643.9L876.2 640.2L877.6 636.5L879.1 632.7L880.7 629.1L882.6 625.5L884.8 622.1L887.1 618.7L889.0 615.1L890.6 611.4L891.9 607.6L893.1 603.8L894.2 599.9L895.4 596.1L896.7 592.3L898.1 588.6L899.6 584.9L901.2 581.2L902.8 577.6L904.2 573.9L905.2 570.0L906.1 566.0L907.2 562.1L908.6 558.4L910.1 554.7L911.6 551.0L912.9 547.1L914.0 543.3L915.1 539.4L916.4 535.6L917.8 531.8L919.3 528.1L920.8 524.4L922.6 520.8L924.7 517.4L927.1 514.1L929.6 510.8L931.7 507.4L933.2 503.7L934.4 499.8L935.5 495.8L937.0 492.0L938.8 488.4L940.9 485.0L943.1 481.6L945.3 478.3L947.6 475.0L950.0 471.8L952.4 468.6L954.8 465.3L957.0 462.0L959.1 458.6L961.3 455.2L963.7 452.0L966.5 449.0L969.6 446.4L972.8 443.8L975.7 441.0L978.2 437.9L980.4 434.5L982.5 431.1L984.7 427.8L987.0 424.5L989.3 421.2L991.8 418.0L994.3 414.9L997.0 411.9L999.8 409.1L1003.0 406.6L1006.2 404.2L1009.6 402.0L1013.0 400.0 M1013.0 400.0L1012.5 403.9L1011.6 407.8L1010.4 411.6L1008.9 415.3L1007.4 418.9L1005.9 422.6L1004.7 426.4L1003.6 430.3L1002.5 434.1L1001.4 438.0L1000.0 441.7L998.3 445.4L996.5 448.9L994.7 452.5L993.1 456.1L991.7 459.9L990.4 463.7L989.0 467.4L987.3 471.0L985.4 474.5L983.4 478.0L981.5 481.5L979.6 485.0L977.6 488.5L975.5 491.9L973.4 495.3L971.4 498.8L969.8 502.4L968.5 506.3L967.4 510.1L966.1 513.9L964.7 517.7L963.2 521.4L961.7 525.1L960.3 528.8L958.9 532.6L957.6 536.3L956.2 540.1L954.6 543.7L952.7 547.3L950.7 550.7L948.7 554.2L946.7 557.6L944.7 561.1L942.6 564.6L940.5 568.0L938.6 571.5L936.9 575.1L935.4 578.8L933.9 582.5L932.3 586.1L930.5 589.7L928.4 593.1L926.3 596.5L924.2 599.9L922.4 603.5L920.8 607.1L919.1 610.7L917.2 614.2L915.2 617.7L913.3 621.2L911.6 624.8L910.0 628.5L908.5 632.1L907.0 635.8L905.5 639.6L904.0 643.3L902.4 646.9L900.4 650.4L898.2 653.7L895.8 657.0L893.6 660.4L891.6 663.8L889.7 667.3L887.8 670.8L885.6 674.2L883.5 677.5L881.6 681.0L879.9 684.6L878.2 688.2L876.5 691.8L874.8 695.4L872.9 698.9L870.8 702.3L868.8 705.7L866.7 709.1L864.7 712.6L862.7 716.1L860.7 719.5L858.7 723.0L856.6 726.3L854.4 729.6L852.1 732.9L849.9 736.3L847.7 739.6L845.5 742.9L843.1 746.1L840.5 749.1L837.5 751.9L834.4 754.5L831.5 757.3L828.9 760.3L826.7 763.6L824.6 767.0L822.3 770.3L819.9 773.5L817.5 776.6L814.9 779.6L812.2 782.5L809.5 785.4L806.8 788.4L804.2 791.4L801.6 794.4L798.9 797.4L796.3 800.4L793.7 803.4L791.1 806.5L788.5 809.5L785.4 812.1L782.0 814.3L778.5 816.1L775.0 818.0 M775.0 818.0L775.6 814.1L776.3 810.1L777.3 806.3L778.4 802.5L779.4 798.7L780.4 794.9L781.5 791.0L782.6 787.2L783.9 783.4L785.5 779.7L787.3 776.1L789.3 772.6L791.2 769.1L793.0 765.6L794.8 762.0L796.5 758.4L798.5 754.9L800.6 751.6L803.0 748.4L805.4 745.1L807.7 741.8L809.6 738.3L811.4 734.7L813.0 731.1L814.7 727.5L816.5 723.9L818.1 720.3L819.7 716.6L821.3 713.0L823.1 709.4L824.9 705.8L826.9 702.4L828.9 698.9L830.9 695.5L832.8 692.0L834.8 688.5L837.0 685.2L839.4 681.9L841.8 678.7L844.1 675.4L846.2 672.0L848.0 668.4L849.4 664.6L850.7 660.8L852.1 657.0L853.6 653.3L855.0 649.6L856.4 645.8L857.6 642.0L858.8 638.2L860.2 634.5L861.8 630.8L863.7 627.3L865.5 623.8L867.2 620.1L868.6 616.4L869.8 612.6L870.9 608.8L872.0 604.9L873.4 601.2L875.2 597.7L877.3 594.2L879.3 590.7L881.1 587.1L882.6 583.4L884.2 579.7L885.8 576.1L887.7 572.6L889.7 569.1L891.6 565.6L893.3 561.9L894.7 558.2L895.9 554.4L897.1 550.6L898.6 546.9L900.2 543.2L901.8 539.5L903.2 535.8L904.4 532.0L905.6 528.2L906.8 524.4L908.1 520.6L909.3 516.8L910.7 513.0L912.3 509.4L914.4 505.9L916.6 502.6L918.8 499.2L920.5 495.6L922.1 491.9L923.7 488.3L925.6 484.8L927.8 481.4L930.2 478.2L932.7 475.1L935.0 471.8L937.1 468.5L938.9 464.9L940.6 461.2L942.6 457.6L944.8 454.4L947.5 451.4L950.6 448.7L953.7 446.0L956.7 443.3L959.4 440.3L961.8 437.1L963.9 433.7L965.8 430.2L967.7 426.6L969.5 423.0L971.4 419.4L973.4 416.0L975.6 412.6L977.9 409.3L980.3 406.1L982.9 403.0L985.7 400.2L988.7 397.4L991.6 394.7L994.4 391.8L997.0 388.8L999.4 385.6L1001.9 382.5L1004.6 379.5L1007.4 376.6L1010.3 373.9L1013.3 371.2L1016.4 368.7L1019.7 366.4L1023.3 364.6L1027.0 363.0L1030.7 361.7L1034.2 359.9L1037.6 357.9L1041.2 356.3L1045.0 355.0 M1045.0 355.0L1044.1 358.9L1042.9 362.8L1041.3 366.5L1039.7 370.1L1038.9 374.0L1038.4 377.9L1037.9 381.9L1037.3 386.0L1036.5 389.9L1035.3 393.8L1033.8 397.5L1031.8 401.0L1029.5 404.4L1027.2 407.7L1025.2 411.1L1023.4 414.7L1021.6 418.3L1019.9 421.9L1018.3 425.6L1016.9 429.4L1015.7 433.2L1014.5 437.1L1013.1 440.9L1011.4 444.5L1009.5 448.0L1007.6 451.5L1005.8 455.1L1004.0 458.7L1002.3 462.3L1000.7 466.0L999.2 469.7L997.9 473.5L996.3 477.2L994.6 480.8L992.8 484.4L991.0 488.0L989.2 491.5L987.5 495.1L985.7 498.7L984.1 502.4L982.5 506.0L980.9 509.8L979.5 513.5L978.0 517.2L976.2 520.8L974.2 524.3L972.0 527.7L969.6 531.0L967.4 534.3L965.2 537.7L963.0 541.1L960.9 544.5L958.8 547.9L956.9 551.4L955.2 554.9L953.6 558.6L952.0 562.3L950.4 566.1L949.0 569.8L948.1 573.6L947.3 577.6L946.4 581.4L945.4 585.3L944.0 589.1L942.1 592.7L940.1 596.3L938.2 599.8L936.5 603.4L934.9 607.1L933.0 610.6L930.9 614.0L928.7 617.4L926.6 620.8L924.9 624.4L923.6 628.2L922.3 632.1L920.9 635.9L918.9 639.4L916.6 642.7L914.1 645.9L911.8 649.2L909.5 652.5L907.3 655.8L905.2 659.3L903.2 662.7L901.2 666.2L898.9 669.5L896.4 672.6L893.7 675.6L891.0 678.7L888.6 681.9L886.6 685.4L884.9 689.0L883.4 692.8L881.9 696.6L880.0 700.1L877.9 703.5L875.6 706.8L873.4 710.1L871.1 713.4L868.6 716.6L866.2 719.8L863.7 723.0L861.4 726.2L859.4 729.7L857.7 733.4L856.1 737.1L854.4 740.9L852.3 744.3L849.8 747.5L847.0 750.4L844.2 753.2L841.4 756.1L838.8 759.2L836.2 762.3L833.8 765.4L831.3 768.6L828.9 771.7L826.3 774.8L823.7 777.8L821.0 780.8L818.4 783.9L815.8 786.9L813.1 789.8L810.2 792.7L807.3 795.4L804.3 798.0L801.2 800.6L798.1 803.1L795.0 805.7L792.2 808.5L789.4 811.4L786.6 814.2L783.7 817.0L780.6 819.6L777.6 822.2L774.7 824.9L771.9 827.7L769.0 830.5L765.8 832.9L762.4 835.1L758.9 837.0L755.5 839.1L752.2 841.3L749.0 843.7L746.2 846.5L742.9 848.8L739.0 849.8L735.0 850.0 M735.0 850.0L735.8 846.0L736.2 842.1L736.4 838.1L736.8 834.2L737.5 830.2L738.8 826.5L740.4 822.8L741.9 819.1L743.2 815.3L744.3 811.5L745.1 807.5L746.1 803.6L747.2 799.7L748.3 795.9L749.5 792.0L750.7 788.2L752.0 784.4L753.5 780.7L755.3 777.2L757.4 773.7L759.7 770.3L761.8 766.9L763.6 763.3L765.1 759.6L766.6 755.9L768.3 752.2L770.1 748.7L771.9 745.1L773.5 741.5L775.0 737.7L776.4 734.0L778.1 730.3L780.0 726.8L781.9 723.3L783.9 719.8L786.1 716.5L788.3 713.1L790.5 709.8L792.6 706.4L794.5 702.8L796.2 699.2L797.9 695.6L799.6 692.0L801.4 688.4L803.3 684.9L805.5 681.5L807.9 678.3L810.4 675.1L812.7 671.9L815.0 668.6L817.2 665.2L819.4 661.9L821.5 658.5L823.5 655.0L825.1 651.4L826.6 647.6L828.1 643.8L829.7 640.2L831.8 636.8L834.2 633.6L836.9 630.5L839.5 627.3L841.8 624.0L843.9 620.6L845.8 617.1L847.5 613.5L848.9 609.7L849.9 605.7L850.8 601.6L851.9 597.6L853.5 593.9L855.6 590.5L858.1 587.4L860.8 584.3L863.6 581.3L866.3 578.2L868.6 574.9L870.5 571.3L871.8 567.5L872.9 563.6L873.9 559.7L874.9 555.8L876.1 552.0L877.3 548.2L878.8 544.5L880.5 540.8L882.3 537.2L884.0 533.6L885.3 529.9L886.5 526.0L887.8 522.2L889.5 518.6L891.6 515.2L893.9 511.8L896.0 508.4L897.7 504.8L899.1 501.1L900.7 497.4L902.5 493.9L904.4 490.4L906.5 487.0L908.5 483.6L910.6 480.2L912.7 476.7L915.0 473.3L917.3 470.1L919.9 467.0L922.7 464.1L925.6 461.4L928.6 458.7L931.4 455.9L934.1 453.0L936.8 450.0L939.6 447.2L942.6 444.5L945.7 441.9L948.6 439.1L951.2 436.1L953.5 432.8L955.6 429.3L957.7 425.9L959.9 422.6L962.3 419.4L965.0 416.4L967.8 413.5L970.4 410.5L972.7 407.3L974.9 403.9L977.1 400.5L979.4 397.2L982.0 394.1L984.9 391.4L988.0 388.8L991.3 386.4L994.4 383.9L997.3 381.1L999.8 378.1L1002.2 374.8L1004.5 371.4L1007.1 368.3L1010.0 365.6L1013.2 363.1L1016.4 360.6L1019.4 358.1L1022.4 355.4L1025.5 352.8L1028.7 350.4L1032.0 348.2L1035.5 346.2L1039.0 344.3L1042.5 342.3L1046.0 340.4L1049.7 338.7L1053.5 337.4L1057.4 336.6L1061.3 335.8L1065.1 334.8L1068.7 333.0L1072.3 331.2L1076.1 329.9L1080.0 329.0 M1080.0 329.0L1079.2 332.9L1078.4 336.8L1077.5 340.7L1076.4 344.5L1075.2 348.3L1073.9 352.0L1072.5 355.7L1071.0 359.5L1069.6 363.2L1068.2 366.9L1066.6 370.6L1065.0 374.2L1063.3 377.9L1061.7 381.5L1060.3 385.3L1059.0 389.1L1057.8 392.9L1056.6 396.7L1055.2 400.5L1053.6 404.2L1051.6 407.7L1049.6 411.1L1047.6 414.6L1045.6 418.1L1043.6 421.6L1041.6 425.0L1039.6 428.5L1037.9 432.1L1036.3 435.8L1034.8 439.5L1033.1 443.1L1031.3 446.7L1029.7 450.3L1028.2 454.1L1026.7 457.8L1025.1 461.5L1023.5 465.1L1021.9 468.8L1020.4 472.5L1018.9 476.2L1017.3 479.8L1015.6 483.4L1014.0 487.1L1012.7 490.9L1011.5 494.7L1010.2 498.6L1008.7 502.3L1006.9 505.8L1004.7 509.2L1002.4 512.6L1000.1 515.9L998.0 519.4L996.1 522.9L994.3 526.5L992.9 530.2L991.6 534.0L990.5 537.9L989.5 541.8L988.5 545.7L987.5 549.6L986.5 553.5L985.4 557.4L984.0 561.2L982.5 564.9L980.7 568.6L978.8 572.1L976.9 575.6L974.9 579.1L972.8 582.5L970.7 585.9L968.7 589.4L966.8 592.8L965.1 596.4L963.7 600.1L962.8 604.0L962.2 607.9L961.5 611.8L960.5 615.7L959.1 619.4L957.5 623.1L956.0 626.8L954.6 630.6L953.2 634.4L951.7 638.2L949.9 641.8L947.7 645.2L945.3 648.5L942.8 651.6L940.3 654.7L937.8 657.9L935.3 661.1L932.9 664.2L930.4 667.4L928.0 670.6L925.8 673.9L923.7 677.3L921.8 680.9L919.8 684.3L917.6 687.7L915.2 690.9L912.8 694.0L910.3 697.2L908.0 700.4L905.7 703.7L903.5 707.0L901.3 710.4L899.0 713.6L896.4 716.7L893.7 719.7L891.0 722.7L888.5 725.8L886.1 729.0L883.6 732.1L880.8 734.9L877.8 737.6L874.8 740.3L871.9 743.1L869.3 746.1L866.9 749.4L864.8 752.8L862.8 756.3L860.7 759.8L858.4 763.1L856.0 766.3L853.4 769.4L850.7 772.3L848.0 775.2L845.2 778.1L842.4 780.9L839.6 783.9L837.0 786.8L834.3 789.8L831.6 792.8L828.8 795.6L825.9 798.4L823.0 801.2L820.2 804.0L817.3 806.8L814.3 809.4L811.2 811.9L807.9 814.3L804.8 816.8L801.7 819.3L798.9 822.2L796.3 825.2L793.8 828.5L791.3 831.7L788.5 834.7L785.4 837.3L782.1 839.6L778.8 841.8L775.4 844.1L772.2 846.5L769.0 848.9L765.7 851.2L762.4 853.5L759.0 855.7L755.6 857.8L752.1 859.9L748.5 861.6L744.8 863.2L741.0 864.6L737.2 866.1L733.6 867.8L730.1 869.7L726.5 871.6L722.9 873.2L719.1 874.7L715.3 876.0L711.6 877.2L707.7 878.4L703.8 879.5L699.9 880.0L696.1 879.1 M696.1 879.1L697.3 875.3L698.5 871.5L699.4 867.6L699.9 863.6L700.5 859.6L701.7 855.7L703.7 852.2L706.0 848.8L708.4 845.6L710.6 842.2L712.6 838.7L714.4 835.1L716.0 831.5L717.4 827.7L718.7 823.9L719.9 820.1L721.2 816.3L722.5 812.5L723.8 808.8L725.0 805.0L726.2 801.2L727.3 797.3L728.5 793.5L729.8 789.7L731.4 786.1L733.2 782.5L734.8 778.8L736.2 775.1L737.4 771.2L738.6 767.4L739.9 763.7L741.4 760.0L742.8 756.3L744.0 752.5L745.3 748.7L746.6 744.9L748.0 741.1L749.7 737.5L751.5 733.9L753.5 730.4L755.3 726.9L757.1 723.3L758.8 719.7L760.6 716.2L762.6 712.7L764.8 709.3L766.9 705.9L768.9 702.5L771.0 699.1L773.1 695.7L775.3 692.4L777.6 689.1L779.9 685.8L782.2 682.5L784.5 679.2L786.7 675.9L789.0 672.7L791.3 669.4L793.4 666.0L795.5 662.6L797.4 659.1L799.3 655.6L801.3 652.1L803.4 648.7L805.8 645.5L808.1 642.3L810.5 639.0L812.6 635.7L814.6 632.2L816.3 628.6L818.0 624.9L819.9 621.4L822.0 618.0L824.2 614.7L826.3 611.3L828.2 607.8L830.0 604.2L831.9 600.7L833.8 597.2L835.7 593.6L837.6 590.1L839.6 586.7L841.7 583.3L843.9 580.0L846.2 576.7L848.3 573.3L850.2 569.9L851.9 566.3L853.5 562.6L855.0 558.9L856.5 555.3L858.3 551.7L860.3 548.3L862.6 544.9L864.9 541.5L867.1 538.1L869.0 534.6L870.5 531.0L871.9 527.2L873.5 523.6L875.3 520.0L877.3 516.6L879.4 513.2L881.4 509.8L883.4 506.3L885.3 502.8L887.1 499.2L888.8 495.7L890.6 492.1L892.5 488.7L894.7 485.4L897.1 482.3L899.7 479.4L902.5 476.7L905.5 474.0L908.4 471.3L911.2 468.6L914.2 465.9L917.1 463.1L919.8 460.2L922.5 457.2L925.4 454.4L928.4 451.8L931.3 449.1L934.1 446.2L936.6 443.1L939.1 439.9L941.6 436.9L944.2 433.8L946.8 430.7L949.1 427.5L951.3 424.1L953.4 420.7L955.5 417.3L957.7 414.0L960.1 410.7L962.7 407.7L965.5 404.8L968.3 402.0L971.1 399.1L974.1 396.4L977.1 393.8L980.1 391.1L983.0 388.3L985.6 385.3L988.0 382.2L990.5 379.0L993.0 375.9L995.6 372.9L998.4 370.1L1001.3 367.3L1004.2 364.6L1007.0 361.7L1009.7 358.7L1012.4 355.8L1015.1 352.8L1017.9 350.0L1020.9 347.3L1024.0 344.8L1027.3 342.6L1030.8 340.5L1034.4 338.7L1038.0 336.9L1041.5 335.0L1044.8 332.9L1048.1 330.6L1051.4 328.4L1054.6 326.1L1057.9 324.0L1061.4 322.1L1065.0 320.4L1068.6 318.8L1072.2 317.1L1075.7 315.2L1079.2 313.3L1082.8 311.4L1086.4 309.7L1090.1 308.3L1093.8 306.9L1097.5 305.6L1101.3 304.4L1105.1 303.3L1109.0 302.7L1113.0 302.7L1117.0 303.0 M1117.0 303.0L1116.1 306.9L1115.1 310.8L1114.1 314.6L1113.0 318.4L1111.8 322.2L1110.4 326.0L1109.1 329.7L1107.7 333.5L1106.0 337.1L1104.2 340.7L1102.3 344.2L1100.7 347.8L1099.4 351.6L1098.4 355.5L1097.3 359.4L1095.8 363.1L1093.9 366.6L1092.0 370.2L1090.5 373.8L1089.4 377.7L1088.5 381.7L1087.4 385.6L1086.1 389.4L1084.5 393.0L1082.7 396.6L1080.8 400.1L1078.9 403.7L1077.1 407.2L1075.5 410.9L1074.1 414.6L1072.7 418.4L1071.4 422.2L1070.0 425.9L1068.4 429.6L1066.6 433.1L1064.7 436.7L1062.8 440.2L1060.9 443.7L1059.1 447.3L1057.3 450.9L1055.4 454.4L1053.7 458.0L1052.1 461.7L1050.8 465.5L1049.3 469.2L1047.4 472.7L1045.3 476.1L1043.1 479.5L1041.4 483.1L1040.0 486.9L1038.8 490.7L1037.5 494.5L1036.1 498.3L1034.5 501.9L1032.9 505.6L1031.2 509.2L1029.8 512.9L1028.5 516.8L1027.3 520.6L1026.0 524.4L1024.5 528.0L1022.6 531.6L1020.6 535.1L1018.4 538.5L1016.4 542.0L1014.7 545.6L1013.3 549.3L1012.2 553.2L1011.0 557.1L1009.5 560.8L1007.6 564.3L1005.4 567.7L1002.8 570.8L1000.0 573.7L997.3 576.8L994.8 580.0L992.7 583.4L990.6 586.8L988.7 590.3L986.7 593.7L984.9 597.2L983.1 600.8L981.2 604.4L979.2 607.9L976.9 611.1L974.3 614.1L971.5 617.1L969.0 620.1L966.9 623.6L965.6 627.3L965.1 631.2L964.7 635.3L963.6 639.3L962.1 643.1L960.2 646.7L958.2 650.2L956.1 653.7L953.8 657.0L951.2 660.1L948.4 663.0L945.5 665.8L942.8 668.9L941.3 672.5L939.1 675.8L936.8 679.0L934.4 682.1L931.8 685.2L929.3 688.3L926.8 691.4L924.2 694.4L921.5 697.4L918.9 700.4L916.5 703.6L914.2 706.9L912.0 710.3L909.9 713.7L907.7 717.0L905.5 720.4L903.1 723.6L900.3 726.5L897.3 729.2L894.4 731.9L891.5 734.7L888.7 737.6L886.0 740.5L883.3 743.4L880.7 746.5L878.2 749.6L875.9 752.9L873.6 756.2L871.2 759.4L868.6 762.5L866.0 765.5L863.2 768.3L860.3 771.1L857.5 774.0L854.9 776.9L852.3 780.0L849.7 783.0L846.9 785.9L844.0 788.7L841.1 791.4L838.3 794.3L835.8 797.3L833.3 800.5L830.7 803.5L827.9 806.4L825.0 809.2L822.0 811.8L819.1 814.5L816.3 817.4L813.7 820.5L811.0 823.5L808.0 826.1L804.6 828.3L801.1 830.4L797.8 832.6L794.7 835.2L791.8 837.9L788.8 840.5L785.6 842.9L782.4 845.3L779.3 847.7L776.2 850.2L773.1 852.7L769.9 855.2L766.7 857.5L763.5 860.0L760.5 862.6L757.4 865.2L754.3 867.7L751.0 869.9L747.5 871.9L743.9 873.7L740.3 875.5L736.7 877.1L733.0 878.6L729.2 880.1L725.5 881.5L721.9 883.0L718.2 884.5L714.6 886.2L711.1 887.9L707.5 889.7L703.9 891.4L700.2 893.1L696.6 894.8L692.8 896.4L689.0 897.8L685.2 898.9L681.2 899.6L677.1 899.8L673.0 899.8L669.0 899.5L665.0 899.2L661.0 899.1L657.0 898.7L653.0 897.6L650.4 895.0 M650.4 895.0L651.4 891.1L652.5 887.3L653.7 883.4L655.0 879.6L656.0 875.8L657.2 872.0L659.0 868.5L661.2 865.3L663.6 862.2L665.7 858.7L667.3 854.9L668.5 851.0L669.6 847.1L670.9 843.3L672.3 839.6L674.0 835.8L675.9 832.2L678.2 828.8L681.0 825.7L683.8 823.0L686.5 820.1L688.8 817.0L690.9 813.6L692.7 810.0L694.3 806.4L696.2 802.8L698.4 799.4L700.8 796.2L703.0 792.8L704.9 789.3L706.4 785.5L707.8 781.7L709.3 777.9L710.6 774.1L711.8 770.2L712.8 766.3L713.6 762.4L714.4 758.6L715.3 754.8L716.4 751.0L717.6 747.2L718.8 743.4L720.2 739.6L721.7 735.8L723.3 732.1L725.0 728.5L726.8 724.9L729.1 721.6L731.8 718.5L734.6 715.5L737.2 712.3L739.3 708.9L740.9 705.2L742.3 701.4L743.6 697.6L745.1 693.8L746.8 690.1L748.6 686.6L750.7 683.1L752.9 679.8L755.2 676.5L757.6 673.3L760.0 670.0L762.2 666.7L764.3 663.2L766.2 659.7L768.1 656.1L770.0 652.6L772.2 649.3L774.4 646.0L776.7 642.7L778.8 639.2L780.7 635.7L782.4 632.0L784.2 628.4L786.2 625.0L788.4 621.6L790.8 618.3L793.1 615.1L795.5 611.8L797.9 608.6L800.3 605.4L802.7 602.2L805.1 599.0L807.4 595.7L809.6 592.4L811.9 589.1L814.1 585.7L816.2 582.3L818.3 578.9L820.5 575.6L822.8 572.3L825.1 569.0L827.2 565.6L829.1 562.0L830.8 558.3L832.7 554.8L835.0 551.6L837.8 548.6L840.7 545.7L843.4 542.7L845.7 539.4L847.8 536.0L849.7 532.4L851.6 528.9L853.7 525.5L855.9 522.2L858.4 519.0L861.0 515.9L863.4 512.7L865.7 509.4L867.9 506.1L870.2 502.8L872.5 499.5L874.8 496.3L877.2 493.0L879.4 489.7L881.8 486.4L884.3 483.3L887.0 480.4L889.8 477.6L892.8 474.8L895.7 472.2L898.7 469.6L901.6 467.1L904.8 464.9L908.1 462.9L911.4 460.5L914.4 457.7L917.1 454.5L919.6 451.4L922.4 448.6L925.3 445.8L928.1 442.9L930.7 439.9L933.2 436.8L935.9 433.9L939.0 431.3L942.5 429.0L946.1 426.9L949.4 424.5L952.2 421.6L954.3 418.1L956.0 414.2L957.8 410.4L960.1 407.1L963.1 404.4L966.5 402.1L970.0 399.9L973.2 397.4L976.2 394.7L978.9 391.7L981.5 388.6L983.9 385.4L986.3 382.2L988.9 379.2L991.8 376.4L994.9 373.8L997.8 371.0L1000.4 367.9L1002.9 364.8L1005.4 361.6L1008.1 358.7L1011.0 355.9L1013.9 353.2L1016.9 350.5L1019.9 347.8L1022.8 345.1L1025.7 342.3L1028.6 339.5L1031.6 336.8L1034.6 334.3L1037.7 331.7L1040.8 329.2L1043.9 326.6L1047.1 324.1L1050.3 321.8L1053.7 319.6L1057.1 317.4L1060.4 315.2L1063.6 312.8L1066.8 310.3L1070.1 307.9L1073.4 305.8L1077.0 303.8L1080.6 302.1L1084.3 300.5L1088.0 298.8L1091.6 297.0L1095.2 295.2L1098.7 293.4L1102.4 291.7L1106.1 290.1L1109.8 288.6L1113.5 286.9L1117.1 285.3L1120.9 283.9L1124.7 282.5L1128.5 281.4L1132.4 280.3L1136.3 279.4L1140.2 278.6L1144.1 277.5L1147.8 276.0L1151.5 274.4L1155.5 273.8L1157.8 276.9L1157.5 281.0 M1157.5 281.0L1157.0 285.0L1156.6 289.0L1156.4 293.0L1156.1 297.0L1155.2 300.9L1154.2 304.8L1153.3 308.7L1152.4 312.6L1151.5 316.6L1150.4 320.5L1149.0 324.3L1147.2 327.9L1145.2 331.4L1143.3 334.9L1141.5 338.5L1139.8 342.2L1138.3 345.8L1136.7 349.5L1135.0 353.2L1133.4 356.8L1131.7 360.5L1130.2 364.1L1128.6 367.8L1126.9 371.4L1125.0 374.9L1123.0 378.3L1121.0 381.6L1118.9 384.9L1116.8 388.3L1114.7 391.7L1112.8 395.3L1111.0 398.9L1109.4 402.6L1107.8 406.2L1106.4 410.0L1105.1 413.7L1103.7 417.5L1102.3 421.2L1100.9 425.0L1099.8 428.8L1098.8 432.7L1097.8 436.6L1096.7 440.4L1095.7 444.3L1094.7 448.2L1093.7 452.1L1092.3 455.9L1090.7 459.6L1088.9 463.2L1086.9 466.7L1084.8 470.1L1082.6 473.5L1080.5 476.9L1078.4 480.3L1076.3 483.8L1074.3 487.2L1072.5 490.8L1070.8 494.5L1069.3 498.2L1067.9 501.9L1066.5 505.7L1065.0 509.4L1063.4 513.1L1061.6 516.6L1059.7 520.2L1058.0 523.8L1056.6 527.5L1055.2 531.3L1053.8 535.1L1052.0 538.7L1049.9 542.1L1047.6 545.4L1045.2 548.7L1042.9 552.0L1040.9 555.4L1039.0 558.9L1037.1 562.5L1035.0 565.9L1032.6 569.1L1029.9 572.0L1027.3 575.1L1024.9 578.3L1022.7 581.6L1020.4 584.9L1018.0 588.1L1015.5 591.2L1012.9 594.3L1010.3 597.3L1007.7 600.4L1005.1 603.4L1002.6 606.5L1000.2 609.8L998.0 613.1L995.8 616.5L993.7 619.8L991.3 623.1L988.6 626.1L985.7 628.8L982.6 631.4L979.5 634.1L976.7 636.9L974.0 639.9L971.6 643.2L969.3 646.8L967.5 650.8L966.9 655.1L966.8 658.9L966.1 662.3L964.4 665.5L962.2 668.8L959.9 672.2L957.7 675.6L955.3 678.8L952.6 681.7L949.4 684.2L946.2 686.7L943.1 689.5L940.4 692.4L938.0 695.4L935.7 698.7L933.4 702.1L931.1 705.3L928.6 708.5L926.1 711.6L923.6 714.7L921.1 717.9L918.6 721.0L916.0 724.1L913.5 727.2L911.0 730.3L908.4 733.4L905.8 736.3L902.9 739.2L900.0 741.9L897.1 744.6L894.2 747.5L891.5 750.4L888.9 753.4L886.3 756.5L883.7 759.5L881.0 762.4L878.2 765.4L875.5 768.3L872.6 771.1L869.7 773.8L866.9 776.6L864.1 779.6L861.5 782.6L858.9 785.6L856.3 788.6L853.7 791.7L851.1 794.7L848.5 797.8L845.7 800.7L842.9 803.5L840.0 806.3L837.1 809.0L834.2 811.8L831.3 814.6L828.4 817.2L825.3 819.8L822.2 822.4L819.2 825.0L816.4 827.9L813.6 830.7L810.5 833.3L807.2 835.6L803.7 837.7L800.5 840.0L797.5 842.7L794.8 845.6L791.9 848.5L788.9 851.1L785.5 853.3L782.1 855.3L778.6 857.4L775.2 859.5L772.0 861.9L768.9 864.4L765.9 867.1L763.0 869.8L760.0 872.4L756.6 874.6L753.1 876.6L749.6 878.5L746.3 880.6L743.0 882.9L739.6 885.0L736.2 887.0L732.6 888.8L729.0 890.6L725.5 892.4L722.0 894.3L718.5 896.2L715.0 898.2L711.5 900.1L707.9 901.9L704.3 903.4L700.6 905.0L696.9 906.5L693.3 908.0L689.6 909.6L686.0 911.2L682.3 913.0L678.7 914.8L675.0 916.3L671.1 917.4L667.1 917.9L663.1 918.1L659.0 918.0L654.9 918.0L650.9 918.4L647.1 919.6L643.3 921.2L639.6 923.0L635.7 924.5L631.7 925.5L627.6 926.0L623.5 925.3L619.6 924.2L615.7 923.4L611.7 922.8 M611.7 922.8L611.8 918.8L611.9 914.8L611.8 910.8L611.5 906.7L611.6 902.6L612.3 898.5L613.6 894.6L615.3 890.9L617.3 887.3L619.3 883.8L621.6 880.5L623.9 877.2L626.2 873.9L628.4 870.6L630.4 867.1L632.4 863.6L634.1 860.0L635.7 856.3L637.4 852.7L639.0 849.3L640.6 845.8L642.1 842.1L643.5 838.3L644.8 834.5L645.9 830.7L646.7 826.7L647.7 822.7L648.9 818.8L650.7 815.1L652.8 811.6L655.0 808.2L657.1 804.9L659.2 801.5L661.4 798.2L663.6 794.8L665.8 791.5L667.8 788.1L669.7 784.5L671.5 781.0L673.2 777.3L674.8 773.6L676.3 769.9L677.8 766.2L679.3 762.6L680.9 759.1L682.6 755.7L684.3 752.1L686.1 748.5L687.8 744.9L689.4 741.2L691.2 737.6L693.0 734.0L694.9 730.5L696.8 727.0L698.7 723.5L700.5 719.9L702.6 716.5L704.9 713.2L707.2 710.0L709.5 706.7L711.7 703.4L714.0 700.1L716.1 696.7L718.1 693.2L719.8 689.6L721.5 685.9L723.3 682.3L725.4 678.9L727.6 675.6L730.1 672.4L732.5 669.2L735.1 666.1L737.6 663.0L740.0 659.9L742.4 656.7L744.7 653.4L747.1 650.2L749.7 647.2L752.3 644.2L755.0 641.2L757.5 638.1L759.7 634.7L761.6 631.1L763.4 627.6L765.5 624.3L768.0 621.2L770.6 618.2L773.2 615.1L775.6 611.8L777.7 608.5L779.9 605.1L782.2 601.9L784.8 598.7L787.3 595.6L789.6 592.3L791.3 588.7L792.8 584.9L794.2 581.0L796.0 577.4L798.4 574.0L801.1 571.0L803.9 568.1L806.6 565.2L809.1 562.1L811.3 558.8L813.6 555.5L816.2 552.5L819.0 549.6L821.8 546.7L824.6 543.8L827.0 540.6L829.2 537.2L831.1 533.7L833.0 530.1L835.2 526.8L837.9 523.8L840.8 521.0L843.7 518.1L846.3 515.1L848.6 511.9L850.9 508.6L853.2 505.3L855.8 502.2L858.4 499.2L861.1 496.3L863.8 493.3L866.5 490.3L869.2 487.5L872.1 484.7L875.1 482.1L878.2 479.5L881.3 477.0L884.4 474.5L887.4 471.9L890.2 469.1L892.9 466.1L895.5 463.0L898.3 460.0L901.2 457.2L904.2 454.6L907.3 452.2L910.4 449.7L913.5 447.2L916.6 444.6L919.7 442.2L923.0 439.9L926.4 437.6L929.7 435.3L932.8 432.6L935.5 429.7L938.0 426.5L940.4 423.3L942.8 420.1L945.2 416.8L947.7 413.7L950.1 410.5L952.7 407.4L955.1 404.3L957.4 401.0L959.6 397.7L961.7 394.3L963.8 390.9L965.8 387.4L967.9 384.0L969.9 380.6L972.0 377.2L974.3 373.9L976.8 370.7L979.4 367.7L982.1 364.7L984.9 361.7L987.7 358.9L990.4 355.9L992.8 352.8L995.1 349.5L997.4 346.2L999.8 343.0L1002.4 339.9L1005.1 337.0L1008.0 334.2L1010.9 331.4L1013.8 328.7L1016.7 325.9L1019.8 323.3L1022.9 320.8L1026.0 318.3L1029.1 315.7L1032.2 313.1L1035.4 310.7L1038.7 308.4L1042.3 306.5L1046.0 304.9L1049.8 303.5L1053.6 302.2L1057.4 300.9L1061.1 299.5L1064.8 298.0L1068.4 296.3L1072.0 294.5L1075.7 293.0L1079.6 291.9L1083.6 291.2L1087.6 290.5L1091.5 289.6L1095.3 288.2L1098.9 286.4L1102.5 284.6L1106.1 282.9L1109.8 281.3L1113.5 279.5L1117.0 277.6L1120.4 275.5L1123.9 273.5L1127.4 271.6L1130.9 269.7L1134.4 267.7L1137.7 265.5L1141.1 263.3L1144.5 261.0L1147.9 258.9L1151.6 257.2L1155.4 255.8L1159.4 254.7L1163.4 254.0L1167.4 253.5L1171.4 253.0L1175.3 252.4L1179.2 251.5L1183.2 250.6L1187.2 250.5L1191.4 250.8L1194.8 252.8L1195.9 256.7 M1195.9 256.7L1195.8 260.7L1195.7 264.7L1195.6 268.7L1195.5 272.8L1195.0 276.8L1194.2 280.7L1192.9 284.6L1191.3 288.3L1189.7 292.0L1188.2 295.7L1186.9 299.5L1185.8 303.4L1185.0 307.3L1184.5 311.3L1184.0 315.4L1183.3 319.3L1182.2 323.2L1180.8 327.0L1179.2 330.7L1177.5 334.4L1175.7 338.0L1174.0 341.6L1172.3 345.2L1170.4 348.8L1168.4 352.3L1166.5 355.8L1164.7 359.4L1163.0 363.0L1161.4 366.6L1159.9 370.3L1158.4 374.1L1156.8 377.8L1155.1 381.4L1153.2 384.9L1151.4 388.5L1149.7 392.1L1148.2 395.9L1146.7 399.6L1145.2 403.3L1143.5 406.9L1141.7 410.5L1139.8 414.0L1137.8 417.5L1136.0 421.1L1134.2 424.7L1132.5 428.3L1130.7 431.9L1128.9 435.5L1127.1 439.0L1125.3 442.6L1123.6 446.2L1121.9 449.8L1120.1 453.5L1118.5 457.1L1116.9 460.8L1115.4 464.5L1113.8 468.2L1112.1 471.8L1110.1 475.3L1107.9 478.7L1105.5 482.0L1103.2 485.3L1101.2 488.8L1099.4 492.4L1097.8 496.1L1096.1 499.7L1094.4 503.3L1092.7 507.0L1091.1 510.6L1089.5 514.3L1087.9 518.0L1086.5 521.8L1085.2 525.6L1084.1 529.5L1083.0 533.4L1081.8 537.2L1080.4 540.9L1078.8 544.6L1077.0 548.2L1074.8 551.6L1072.5 554.9L1069.9 558.1L1067.3 561.0L1064.6 563.5L1061.7 565.9L1058.8 568.4L1056.1 571.6L1054.0 575.4L1052.1 579.1L1049.9 582.5L1047.2 585.4L1044.3 588.2L1041.3 591.0L1038.7 594.0L1036.5 597.3L1034.4 600.8L1032.4 604.3L1030.0 607.6L1027.4 610.6L1024.6 613.5L1021.8 616.4L1019.1 619.3L1016.4 622.3L1013.7 625.3L1011.0 628.3L1008.5 631.5L1006.5 635.0L1004.9 638.8L1003.6 642.7L1002.9 646.6L1002.9 650.6L1000.8 654.1L997.9 656.8L994.9 659.5L992.1 662.3L989.3 665.2L986.6 668.2L983.9 671.2L981.2 674.1L978.6 677.2L976.0 680.2L973.3 683.2L970.4 685.9L967.2 688.4L964.0 690.8L961.0 693.4L958.1 696.2L955.4 699.1L952.5 702.0L949.5 704.5L946.3 707.0L943.1 709.5L940.3 712.3L937.7 715.4L935.3 718.7L932.9 721.9L930.5 725.2L927.9 728.3L925.0 731.1L921.9 733.6L918.7 736.1L915.5 738.5L912.4 741.1L909.5 743.9L906.7 746.8L904.0 749.7L901.3 752.6L898.4 755.5L895.6 758.3L893.0 761.4L890.5 764.6L888.0 767.7L885.3 770.7L882.3 773.3L879.0 775.7L875.6 778.0L872.4 780.4L869.4 783.1L866.5 785.9L863.9 788.9L861.4 792.0L858.9 795.2L856.3 798.3L853.6 801.2L850.6 803.9L847.4 806.4L844.2 808.8L841.2 811.4L838.3 814.2L835.6 817.2L832.9 820.2L830.0 823.0L827.0 825.6L823.8 828.1L820.6 830.5L817.5 833.0L814.6 835.8L812.0 838.9L809.5 842.1L806.7 845.0L803.7 847.6L800.3 849.9L796.8 851.9L793.2 853.8L789.8 855.9L786.5 858.2L783.4 860.6L780.3 863.1L777.1 865.6L773.9 867.9L770.6 870.1L767.2 872.2L763.8 874.3L760.5 876.6L757.3 879.1L754.2 881.7L751.0 884.1L747.5 886.0L743.7 887.5L739.9 888.8L736.0 890.0L732.2 891.5L728.7 893.3L725.2 895.3L721.8 897.4L718.4 899.4L714.8 901.2L711.2 902.8L707.5 904.3L703.7 905.8L700.0 907.2L696.3 908.6L692.6 910.1L688.9 911.6L685.2 913.0L681.5 914.5L677.8 916.1L674.2 918.0L670.7 919.9L667.0 921.8L663.3 923.3L659.5 924.6L655.7 925.7L651.7 926.7L647.8 927.5L643.8 928.1L639.8 928.7L635.9 929.3L632.0 930.2L628.1 931.2L624.2 932.2L620.2 932.9L616.2 933.3L612.2 933.3L608.1 933.2L604.1 933.5L600.2 934.1L596.2 934.8L592.1 935.2L588.0 935.2L583.9 934.4L579.7 933.0L577.2 929.2L576.8 925.0L576.7 920.9L576.7 916.9L576.8 912.9L577.0 908.9 M577.0 908.9L577.7 905.0L578.4 901.0L579.0 897.1L580.0 893.2L581.2 889.4L582.3 885.5L583.3 881.6L584.3 877.6L585.6 873.8L587.4 870.1L589.7 866.7L592.3 863.6L594.9 860.5L597.4 857.4L599.7 854.1L601.8 850.7L603.7 847.2L605.6 843.7L607.7 840.2L609.9 836.9L612.1 833.6L614.1 830.1L615.6 826.4L616.3 822.5L616.7 818.5L617.4 814.5L618.8 810.7L620.9 807.3L623.4 804.1L625.9 801.0L628.4 797.9L630.9 794.8L633.6 791.8L636.3 788.8L638.9 785.8L641.3 782.5L643.1 778.9L644.2 775.0L644.7 771.1L645.1 767.0L645.8 763.0L647.1 759.1L648.8 755.4L650.7 751.8L652.7 748.3L654.9 744.9L657.1 741.6L659.4 738.2L661.7 734.9L663.9 731.6L666.1 728.2L668.2 724.8L670.2 721.4L672.2 717.9L674.1 714.4L676.0 710.8L677.8 707.3L679.7 703.7L681.8 700.3L684.1 697.0L686.4 693.7L688.6 690.4L690.5 686.9L692.4 683.4L694.4 679.9L696.5 676.5L699.0 673.3L701.8 670.4L704.7 667.7L707.7 665.0L710.5 662.1L713.0 658.9L715.2 655.6L717.4 652.1L719.5 648.7L721.9 645.5L724.3 642.3L726.9 639.3L729.5 636.2L732.1 633.1L734.6 629.9L736.8 626.5L738.7 623.0L740.5 619.5L742.5 616.0L744.6 612.6L746.6 609.2L748.6 605.7L750.6 602.1L752.6 598.7L754.7 595.3L756.9 591.9L759.2 588.6L761.6 585.4L764.0 582.3L766.5 579.2L769.1 576.3L771.9 573.4L774.7 570.6L777.6 567.8L780.3 564.9L782.8 561.7L784.8 558.2L786.6 554.6L788.7 551.1L791.0 547.8L793.7 544.6L796.4 541.6L799.2 538.7L802.1 536.0L805.1 533.4L808.1 530.8L811.0 528.0L813.7 525.1L816.4 522.1L819.4 519.3L822.6 516.9L826.0 514.7L829.4 512.5L832.7 510.2L835.9 507.7L839.1 505.4L842.4 503.1L845.7 500.8L849.0 498.5L852.0 495.9L855.0 493.2L857.8 490.3L860.7 487.5L863.6 484.8L866.5 482.0L869.4 479.2L872.4 476.6L875.4 473.9L878.3 471.2L881.1 468.3L883.9 465.5L886.7 462.6L889.6 459.8L892.5 457.1L895.5 454.4L898.4 451.6L901.1 448.7L903.9 445.9L906.8 443.1L909.6 440.2L912.2 437.2L914.9 434.2L917.8 431.4L920.6 428.5L923.3 425.6L925.9 422.5L928.5 419.4L931.0 416.4L933.5 413.3L935.9 410.0L938.3 406.8L940.8 403.6L943.4 400.6L946.0 397.5L948.6 394.5L951.3 391.5L954.0 388.6L956.7 385.7L959.5 382.7L962.1 379.8L964.8 376.8L967.5 373.9L970.2 370.9L972.9 368.0L975.7 365.0L978.3 361.9L980.7 358.7L983.1 355.5L985.6 352.4L988.2 349.5L991.0 346.6L993.7 343.7L996.3 340.6L998.6 337.3L1000.8 333.9L1003.0 330.6L1005.2 327.2L1007.5 323.9L1009.9 320.6L1012.5 317.5L1015.5 314.8L1018.8 312.5L1022.2 310.3L1025.6 308.2L1029.0 306.0L1032.3 303.7L1035.6 301.5L1038.9 299.2L1042.1 296.8L1045.4 294.3L1048.6 291.8L1052.1 289.7L1055.7 288.0L1059.6 286.8L1063.6 285.8L1067.5 284.8L1071.3 283.5L1075.0 281.9L1078.6 280.1L1082.2 278.3L1085.8 276.5L1089.3 274.8L1092.9 273.0L1096.5 271.2L1100.2 269.7L1104.0 268.4L1107.9 267.3L1111.7 266.0L1115.4 264.5L1119.0 262.6L1122.5 260.6L1126.2 258.8L1130.0 257.4L1133.9 256.3L1137.8 255.6L1141.8 254.9L1145.7 254.2L1149.7 253.3L1153.6 252.5L1157.5 251.7L1161.5 251.1L1165.5 250.6L1169.5 250.3L1173.5 249.8L1177.5 248.9L1181.2 247.5L1184.7 245.4L1187.6 242.7L1190.9 240.2L1194.8 239.1L1198.8 238.7L1202.8 238.5L1206.8 238.1L1210.7 237.3L1214.7 236.3L1218.7 235.7L1222.7 235.5L1226.7 235.7L1230.7 235.9L1234.7 236.0L1237.4 238.7L1237.8 242.7 M1237.8 242.7L1237.6 246.7L1237.4 250.7L1236.8 254.7L1235.4 258.5L1233.5 262.1L1231.8 265.7L1230.7 269.6L1230.4 273.6L1230.6 277.6L1230.9 281.6L1231.1 285.6L1231.0 289.5L1230.3 293.3L1229.5 297.1L1228.6 301.0L1227.9 304.9L1227.4 308.9L1226.7 312.8L1225.8 316.7L1224.6 320.5L1223.4 324.3L1222.0 328.0L1220.4 331.7L1218.7 335.4L1217.0 339.0L1215.4 342.6L1214.0 346.2L1212.7 350.0L1211.2 353.7L1209.3 357.4L1207.2 360.8L1205.1 364.3L1203.1 367.7L1201.1 371.2L1199.2 374.7L1197.4 378.2L1195.6 381.8L1193.7 385.4L1191.7 388.8L1189.5 392.2L1187.1 395.4L1184.6 398.6L1182.2 401.8L1179.8 405.0L1177.5 408.3L1175.4 411.8L1173.9 415.6L1172.9 419.5L1172.1 423.4L1171.3 427.4L1170.4 431.2L1169.8 435.2L1169.4 439.2L1168.7 443.1L1167.6 447.0L1166.0 450.6L1164.1 454.2L1162.2 457.6L1160.1 461.1L1158.0 464.4L1155.6 467.7L1153.2 470.9L1150.9 474.2L1148.9 477.6L1147.3 481.3L1145.9 485.1L1144.3 488.8L1142.4 492.4L1140.4 495.8L1138.4 499.3L1136.4 502.7L1134.2 506.1L1131.8 509.3L1129.4 512.5L1127.1 515.8L1125.0 519.2L1122.9 522.6L1120.8 526.0L1118.7 529.4L1116.6 532.8L1114.6 536.3L1112.7 539.8L1110.7 543.3L1108.7 546.7L1106.8 550.2L1104.8 553.6L1102.9 557.1L1100.9 560.6L1098.6 563.8L1095.8 566.6L1092.4 568.6L1088.7 570.6L1085.5 573.2L1082.7 576.3L1080.7 580.3L1080.5 584.8L1082.0 588.7L1082.7 592.9L1081.6 597.1L1079.4 600.7L1076.6 603.7L1073.3 606.3L1069.8 608.4L1066.4 610.7L1063.6 613.5L1061.3 617.0L1059.5 620.6L1057.7 624.2L1055.5 627.6L1052.9 630.7L1050.1 633.6L1047.3 636.4L1044.5 639.3L1041.7 642.1L1038.9 645.0L1036.1 647.8L1033.4 650.8L1030.7 653.7L1028.1 656.7L1025.3 659.6L1022.6 662.5L1019.9 665.5L1017.2 668.4L1014.6 671.5L1013.1 675.2L1012.9 678.8L1010.4 680.1L1006.9 679.9L1002.9 679.9L998.7 680.5L994.7 682.3L991.5 685.1L988.7 688.0L985.7 690.7L982.4 693.1L979.4 695.8L976.8 698.8L974.5 701.6L972.0 704.1L968.7 705.6L964.8 706.7L961.0 708.0L957.5 709.9L954.1 712.0L950.8 714.2L947.6 716.6L944.5 719.0L941.4 721.5L938.5 724.2L935.6 727.0L932.8 729.8L930.0 732.6L927.2 735.4L924.5 738.4L922.0 741.5L919.3 744.6L916.5 747.4L913.6 750.1L910.5 752.7L907.6 755.4L904.7 758.2L901.8 761.0L898.9 763.6L895.7 766.2L892.6 768.6L889.5 771.2L886.6 773.9L883.9 776.9L881.3 780.0L878.7 783.0L875.8 785.8L872.7 788.3L869.5 790.7L866.4 793.2L863.6 796.1L861.0 799.3L858.5 802.4L855.8 805.4L852.7 808.0L849.5 810.3L846.1 812.5L842.7 814.7L839.4 817.0L836.2 819.4L833.2 822.1L830.6 825.1L828.1 828.3L825.6 831.5L823.0 834.5L820.4 837.4L817.5 840.3L814.4 842.9L811.1 845.1L807.8 847.4L804.5 849.8L801.4 852.3L798.4 854.9L795.2 857.4L791.8 859.5L788.2 861.2L784.5 863.0L781.0 864.8L777.5 866.8L774.1 868.8L770.6 870.8L767.0 872.7L763.5 874.5L759.9 876.3L756.3 878.1L752.8 879.9L749.2 881.6L745.5 883.2L741.8 884.7L738.1 886.3L734.5 888.0L731.0 890.0L727.8 892.4L724.6 894.8L721.3 897.0L717.8 898.9L714.1 900.5L710.4 901.9L706.8 903.2L703.0 904.5L699.1 905.3L695.1 905.7L691.1 906.0L687.2 906.6L683.2 907.3L679.3 908.1L675.4 908.9L671.5 909.9L667.7 910.9L663.8 912.0L659.9 913.2L656.2 914.6L652.6 916.4L649.2 918.5L645.8 920.7L642.5 922.9L639.2 925.1L635.8 927.3L632.2 929.2L628.5 930.8L624.6 931.9L620.5 932.5L616.5 933.0L612.6 933.4L608.6 933.9L604.7 934.5L600.7 934.9L596.7 935.3L592.7 935.6L588.7 936.0L584.8 936.7L580.9 937.7L577.0 938.7L573.1 939.6L569.1 939.9L565.1 939.6L561.1 939.0L557.2 938.5L553.3 938.4L549.4 938.7L545.5 938.6L541.8 937.6L538.4 935.5L535.7 932.5L533.7 929.0L532.4 925.0L531.9 920.9L532.0 916.9L532.5 912.9L533.2 908.9 M533.2 908.9L534.1 905.0L535.0 901.1L535.8 897.2L536.6 893.2L537.5 889.4L538.7 885.5L540.3 881.8L542.0 878.3L543.8 874.7L545.6 871.2L547.7 867.7L550.1 864.4L552.7 861.4L555.5 858.5L558.0 855.5L560.3 852.1L562.1 848.6L563.8 845.0L565.5 841.3L567.3 837.7L569.3 834.2L571.7 830.9L574.2 827.8L576.7 824.7L579.1 821.5L581.3 818.1L583.0 814.5L584.4 810.7L585.5 806.8L586.5 803.0L587.6 799.2L589.1 795.5L590.9 791.9L593.0 788.5L595.1 785.1L597.0 781.6L598.8 778.0L600.7 774.4L602.8 771.1L605.3 767.9L607.8 764.7L610.0 761.4L611.9 757.9L613.5 754.2L615.0 750.5L616.8 746.9L618.9 743.5L621.1 740.1L623.3 736.8L625.3 733.3L627.4 729.9L629.5 726.5L631.8 723.2L634.1 719.9L636.3 716.6L638.6 713.3L640.8 710.0L643.1 706.7L645.4 703.5L647.6 700.1L649.5 696.5L651.2 692.9L653.1 689.3L655.1 685.8L657.1 682.4L659.1 678.9L661.2 675.5L663.5 672.2L666.0 669.0L668.6 666.0L671.3 663.0L673.9 659.9L676.4 656.8L678.8 653.5L681.1 650.3L683.5 647.1L685.8 643.8L687.9 640.4L689.9 636.9L691.8 633.4L694.0 630.0L696.5 626.9L699.1 623.8L701.5 620.6L703.8 617.2L705.8 613.8L707.8 610.3L709.7 606.8L711.8 603.5L714.1 600.2L716.5 597.0L718.8 593.7L721.1 590.4L723.4 587.1L725.7 583.8L728.1 580.6L730.7 577.6L733.5 574.7L736.3 571.8L738.8 568.7L741.0 565.3L743.0 561.8L745.0 558.3L747.3 555.1L749.9 552.0L752.7 549.1L755.6 546.3L758.4 543.5L761.2 540.7L764.1 538.0L766.9 535.1L769.9 532.3L773.1 529.8L776.7 527.8L780.5 526.4L784.2 525.0L787.7 523.1L790.8 520.6L793.6 517.7L796.0 514.6L798.1 511.2L800.8 508.0L804.2 505.6L807.7 503.5L811.0 501.3L814.3 499.1L817.6 496.9L820.9 494.7L824.2 492.6L827.8 490.6L831.4 488.9L835.0 487.2L838.5 485.2L841.7 482.8L844.9 480.3L848.3 478.1L851.8 476.2L855.2 474.3L858.7 472.4L862.1 470.3L865.4 468.0L868.7 465.6L871.9 463.2L874.9 460.6L877.9 458.0L880.9 455.3L883.9 452.6L887.0 450.1L890.2 447.7L893.5 445.4L896.8 443.1L900.0 440.7L903.1 438.2L906.1 435.6L909.1 432.9L912.2 430.3L915.5 428.0L919.0 426.0L922.5 424.0L925.8 421.8L929.0 419.3L932.0 416.6L934.9 413.8L937.8 411.0L940.7 408.2L943.6 405.5L946.7 402.9L949.7 400.3L952.8 397.7L955.8 395.1L958.9 392.6L962.2 390.2L965.3 387.7L968.1 384.8L970.6 381.6L973.1 378.4L975.7 375.3L978.5 372.5L981.5 369.8L984.5 367.1L987.3 364.3L990.0 361.3L992.5 358.1L995.0 355.0L997.8 352.0L1000.8 349.4L1004.1 347.0L1007.5 344.9L1011.1 342.9L1014.7 341.0L1018.2 339.1L1021.7 337.0L1024.8 334.6L1027.8 331.9L1030.8 329.2L1034.0 326.7L1037.4 324.6L1041.0 322.8L1044.6 321.0L1048.0 319.0L1051.2 316.6L1054.2 314.0L1057.2 311.2L1060.3 308.6L1063.7 306.4L1067.4 304.8L1071.4 303.8L1075.4 303.1L1079.4 302.5L1083.4 301.8L1087.2 300.7L1091.0 299.2L1094.6 297.5L1098.2 295.7L1101.9 294.0L1105.6 292.4L1109.4 291.1L1113.2 289.9L1117.0 288.6L1120.7 287.1L1124.3 285.3L1127.8 283.2L1131.3 281.3L1134.9 279.5L1138.6 278.1L1142.5 276.9L1146.3 275.7L1150.1 274.3L1153.8 272.8L1157.5 271.2L1161.2 269.8L1165.0 268.7L1168.9 267.6L1172.8 266.6L1176.6 265.4L1180.4 264.2L1184.2 262.7L1187.8 261.0L1191.4 259.1L1194.9 257.2L1198.6 255.5L1202.3 254.1L1206.1 252.8L1210.0 251.8L1213.8 250.7L1217.7 249.7L1221.6 248.9L1225.6 248.5L1229.6 248.5L1233.6 248.9L1237.6 249.2L1241.6 249.4L1245.7 249.2L1249.7 248.5L1253.5 247.3L1257.1 245.5L1260.0 242.9L1261.4 239.2L1265.4 238.4L1269.4 238.0L1273.5 237.6L1277.5 237.5L1281.6 238.6L1282.4 242.7 M1282.4 242.7L1281.6 246.6L1280.7 250.5L1279.8 254.4L1279.1 258.3L1278.5 262.3L1278.3 266.3L1278.1 270.3L1277.8 274.3L1277.1 278.2L1276.3 282.1L1275.8 286.1L1275.7 290.0L1276.4 293.9L1277.1 297.9L1276.7 302.2L1274.9 306.2L1272.6 309.7L1270.2 313.1L1268.1 316.5L1266.3 320.0L1264.6 323.7L1263.1 327.4L1261.6 331.1L1260.0 334.8L1258.2 338.3L1256.1 341.8L1253.8 345.1L1251.6 348.4L1249.6 351.9L1247.6 355.3L1245.9 358.9L1244.5 362.6L1243.6 366.5L1243.1 370.6L1242.4 374.6L1241.0 378.5L1238.9 382.1L1236.5 385.4L1233.9 388.6L1231.5 391.9L1229.4 395.3L1227.4 398.7L1225.6 402.3L1224.1 406.0L1222.8 409.8L1221.7 413.6L1220.5 417.4L1219.2 421.1L1217.6 424.8L1216.0 428.5L1214.4 432.1L1212.8 435.8L1211.0 439.4L1209.1 443.0L1207.2 446.5L1205.4 450.1L1203.7 453.8L1202.0 457.4L1200.0 460.9L1197.7 464.2L1195.3 467.4L1192.9 470.6L1190.6 473.9L1188.5 477.4L1186.7 480.9L1185.1 484.6L1183.5 488.3L1181.8 491.9L1179.8 495.4L1177.5 498.7L1175.2 501.9L1172.9 505.2L1170.7 508.6L1168.7 512.1L1166.9 515.7L1165.2 519.3L1163.4 522.9L1161.6 526.4L1159.8 530.0L1158.2 533.7L1156.7 537.4L1155.1 541.1L1153.3 544.7L1151.3 548.1L1149.3 551.6L1147.3 555.0L1145.4 558.6L1143.5 562.1L1141.5 565.6L1139.2 568.9L1136.9 572.2L1134.7 575.5L1132.7 578.9L1131.0 582.5L1129.2 586.2L1126.8 589.6L1123.7 592.4L1120.4 594.8L1117.3 597.2L1114.5 600.1L1112.0 603.2L1109.3 605.8L1105.8 606.9L1101.7 607.6L1098.3 610.0L1095.9 613.4L1094.0 616.9L1092.0 620.4L1090.1 624.0L1088.3 627.6L1086.6 631.1L1084.8 634.6L1082.5 637.9L1079.8 640.8L1076.8 643.5L1073.9 646.2L1071.3 649.2L1068.9 652.4L1066.8 655.9L1065.2 659.6L1064.1 663.4L1062.3 666.7L1059.7 669.2L1056.7 671.6L1053.6 674.1L1050.8 677.0L1048.1 680.1L1045.3 683.0L1042.3 685.6L1038.9 687.7L1035.1 689.1L1031.2 690.0L1027.3 690.8L1023.4 691.6L1019.5 692.8L1015.8 694.4L1012.2 696.2L1008.5 697.8L1004.7 698.9L1000.8 699.7L996.9 700.5L993.0 701.6L989.4 703.2L985.9 705.1L982.3 707.1L978.5 708.7L974.5 709.7L970.4 709.9L966.3 709.7L962.2 709.7L958.2 710.3L954.4 711.4L950.6 712.9L947.0 714.6L943.4 716.4L939.8 718.2L936.2 719.9L932.6 721.9L929.2 724.0L926.0 726.3L922.9 729.0L920.0 731.7L917.1 734.6L914.2 737.3L911.3 740.0L908.2 742.5L905.0 745.0L902.0 747.6L899.1 750.3L896.4 753.3L893.8 756.4L891.2 759.5L888.5 762.5L885.7 765.3L882.5 767.8L879.2 770.0L875.6 772.0L871.9 773.9L868.5 776.0L865.2 778.4L862.2 781.0L859.4 783.9L856.6 786.8L853.8 789.6L850.8 792.2L847.6 794.7L844.4 797.0L841.2 799.4L838.2 802.0L835.3 804.9L832.6 807.8L829.8 810.8L826.9 813.5L823.8 816.0L820.4 818.2L816.9 820.2L813.6 822.4L810.4 824.8L807.3 827.3L804.2 829.9L801.0 832.3L797.7 834.6L794.4 836.9L791.2 839.2L787.9 841.4L784.4 843.5L780.9 845.4L777.4 847.4L774.0 849.5L770.7 851.7L767.3 853.8L763.8 855.8L760.3 857.7L756.7 859.5L753.3 861.6L749.9 863.7L746.5 865.9L743.1 868.0L739.5 869.9L735.9 871.6L732.2 873.1L728.4 874.4L724.5 875.5L720.5 876.3L716.5 877.1L712.7 878.3L709.1 879.9L705.4 881.4L701.6 882.6L697.6 883.5L693.7 884.2L689.7 884.7L685.8 885.3L681.8 886.0L678.0 886.9L674.1 887.8L670.2 888.5L666.3 889.0L662.3 889.3L658.3 889.8L654.4 890.6L650.5 891.4L646.5 892.1L642.6 892.7L638.5 893.0L634.5 893.4L630.5 894.1L626.6 895.1L622.8 896.4L619.0 897.7L615.2 899.0L611.4 900.3L607.7 901.8L604.0 903.5L600.4 905.2L596.7 906.9L593.0 908.4L589.2 909.6L585.3 910.6L581.5 911.7L577.6 912.8L573.8 913.8L569.9 914.7L565.9 915.2L561.8 915.6L557.8 916.2L554.0 917.5L550.3 919.1L546.6 920.6L542.8 922.0L538.9 922.9L535.0 923.6L531.0 924.2L527.0 924.8L523.0 925.5L519.0 926.1L515.0 926.6L510.9 926.7L506.6 926.3L502.5 924.8L499.0 922.1L496.4 918.7L495.0 914.8L494.4 910.8L494.0 906.9L493.7 902.9L493.5 898.9 M493.5 898.9L494.2 895.0L495.2 891.1L496.3 887.2L497.9 883.6L499.7 880.1L501.9 876.8L503.9 873.4L505.7 869.8L507.1 866.0L508.5 862.1L510.1 858.3L512.1 854.9L514.5 851.6L517.1 848.5L519.5 845.4L521.7 842.0L523.8 838.6L526.1 835.3L528.5 832.1L531.1 829.0L533.7 826.0L536.2 822.7L538.3 819.4L540.1 815.7L541.4 811.9L542.5 808.0L543.7 804.1L545.2 800.4L547.2 796.9L549.4 793.5L551.6 790.2L553.7 786.7L555.6 783.2L557.1 779.4L558.2 775.6L559.3 771.8L560.9 768.2L563.2 765.0L565.7 761.8L568.2 758.6L570.2 754.9L571.3 751.0L572.0 747.0L572.9 743.1L574.4 739.2L576.5 735.7L579.0 732.6L581.7 729.6L584.5 726.7L587.1 723.7L589.6 720.6L592.0 717.3L594.4 714.1L596.9 711.0L599.6 708.0L602.4 705.1L605.2 702.3L607.9 699.3L610.3 696.1L612.4 692.7L614.3 689.1L616.2 685.4L618.3 682.0L620.8 678.8L623.4 675.8L626.0 672.7L628.4 669.5L630.9 666.3L633.5 663.3L636.3 660.5L639.2 657.7L642.0 654.9L644.7 651.9L647.3 648.8L649.8 645.8L652.3 642.7L654.9 639.6L657.5 636.5L660.3 633.6L663.0 630.7L665.6 627.6L667.9 624.3L670.0 620.8L672.0 617.4L674.0 613.9L676.0 610.4L678.1 607.0L680.3 603.7L682.9 600.6L685.6 597.7L688.3 594.7L690.9 591.7L693.3 588.6L695.8 585.4L698.3 582.3L700.8 579.2L703.4 576.1L706.0 573.1L708.7 570.1L711.3 567.1L713.9 564.0L716.4 560.8L718.9 557.7L721.6 554.7L724.4 551.8L727.2 549.0L730.2 546.3L733.2 543.6L736.3 541.1L739.5 538.6L742.7 536.1L745.7 533.5L748.7 530.8L751.8 528.2L755.1 526.0L758.6 524.0L762.2 522.0L765.6 519.9L768.9 517.7L772.3 515.6L775.8 513.8L779.4 512.0L782.9 509.9L786.1 507.4L789.0 504.7L791.9 502.0L795.1 499.7L798.8 498.1L802.7 497.1L806.6 496.2L810.5 495.0L814.0 493.0L817.3 490.3L820.3 487.4L823.2 484.5L826.3 482.0L829.7 479.9L833.3 478.1L837.0 476.4L840.6 474.6L844.0 472.5L847.2 470.1L850.5 467.7L854.2 465.8L858.1 464.8L862.1 464.1L865.9 463.0L869.6 461.4L873.1 459.5L876.5 457.3L879.9 455.2L883.3 453.2L886.9 451.3L890.5 449.5L894.0 447.5L897.3 445.3L900.6 443.0L903.8 440.6L906.9 437.9L909.7 435.0L912.5 432.2L915.6 429.6L918.8 427.2L922.1 425.0L925.5 422.8L928.9 420.7L932.2 418.5L935.4 416.1L938.5 413.5L941.6 411.0L944.6 408.4L947.6 405.7L950.5 402.8L953.3 399.9L956.2 397.1L959.2 394.4L962.4 391.9L965.7 389.7L969.2 387.7L972.8 385.9L976.3 383.9L979.6 381.7L982.6 379.0L985.4 376.2L988.1 373.2L990.9 370.4L993.9 367.8L997.1 365.3L1000.2 362.8L1003.1 360.0L1005.8 357.0L1008.5 354.0L1011.3 351.2L1014.4 348.5L1017.5 345.9L1020.7 343.4L1024.0 341.2L1027.6 339.2L1031.2 337.4L1034.7 335.5L1038.2 333.5L1041.8 331.5L1045.5 329.8L1049.2 328.2L1052.9 326.6L1056.7 325.1L1060.5 323.9L1064.4 322.9L1068.3 322.1L1072.3 321.2L1076.1 320.2L1080.0 319.1L1083.9 318.0L1087.8 317.1L1091.7 316.3L1095.6 315.5L1099.6 314.8L1103.5 313.9L1107.3 312.7L1111.1 311.3L1114.9 309.9L1118.7 308.7L1122.6 307.7L1126.5 306.9L1130.5 306.4L1134.4 305.8L1138.4 305.4L1142.4 304.8L1146.4 304.1L1150.3 303.3L1154.2 302.2L1158.0 301.0L1161.8 299.5L1165.5 298.0L1169.3 296.6L1172.9 295.1L1176.5 293.3L1180.1 291.3L1183.7 289.6L1187.6 288.5L1191.6 288.0L1195.6 287.5L1199.4 286.2L1203.0 284.4L1206.4 282.3L1209.7 280.0L1212.9 277.6L1216.0 275.0L1218.9 272.3L1221.8 269.6L1225.0 267.1L1228.4 265.0L1232.0 263.3L1235.7 261.8L1239.4 260.4L1243.1 259.2L1246.7 258.0L1250.4 257.1L1254.3 256.3L1258.2 255.6L1262.2 254.9L1266.2 254.2L1270.1 253.3L1273.9 252.2L1277.8 251.1L1281.7 250.3L1285.7 250.0L1289.7 250.2L1293.7 250.6L1297.7 251.1L1301.7 251.4L1305.7 251.5L1309.7 251.1L1313.6 250.8L1317.4 251.2L1320.8 253.2 M1320.8 253.2L1321.0 257.2L1320.7 261.2L1319.8 265.1L1318.7 269.0L1317.9 272.9L1317.1 276.6L1315.8 280.2L1314.1 283.8L1312.7 287.8L1312.4 292.1L1313.0 296.3L1314.1 300.4L1314.9 304.5L1314.9 308.7L1313.8 312.7L1312.1 316.4L1309.9 320.0L1307.7 323.4L1305.5 326.8L1303.4 330.2L1301.3 333.6L1299.3 337.1L1297.6 340.8L1296.3 344.7L1295.2 348.6L1294.1 352.5L1292.9 356.3L1291.6 360.1L1290.0 363.8L1288.3 367.4L1286.4 371.0L1284.7 374.5L1283.1 378.2L1281.6 381.9L1280.0 385.6L1278.2 389.1L1276.1 392.6L1274.0 396.0L1272.1 399.5L1270.4 403.1L1268.7 406.8L1267.1 410.4L1265.4 414.1L1263.7 417.7L1262.0 421.3L1260.1 424.9L1258.2 428.4L1256.4 432.0L1254.8 435.7L1253.3 439.4L1252.1 443.2L1250.9 447.2L1249.6 451.0L1247.8 454.6L1245.5 458.0L1242.9 461.1L1240.2 464.2L1237.7 467.3L1235.4 470.6L1233.2 474.0L1231.1 477.4L1229.0 480.8L1226.9 484.2L1224.9 487.7L1223.1 491.2L1221.3 494.8L1219.4 498.4L1217.3 501.8L1214.9 505.0L1212.4 508.2L1209.9 511.3L1207.5 514.6L1205.3 517.9L1203.1 521.3L1201.1 524.8L1199.1 528.3L1197.3 531.8L1195.5 535.4L1193.7 539.0L1191.8 542.6L1189.9 546.1L1187.8 549.5L1185.5 552.8L1183.1 556.0L1180.7 559.2L1178.4 562.5L1176.0 565.8L1173.6 569.0L1171.2 572.1L1168.6 575.3L1166.3 578.5L1164.2 581.9L1162.5 585.5L1160.9 589.2L1158.9 592.8L1156.5 596.0L1153.9 599.1L1151.3 602.2L1148.9 605.4L1146.7 608.7L1144.6 612.1L1142.4 615.5L1140.0 618.8L1137.2 621.7L1134.1 624.4L1130.9 626.9L1127.8 629.5L1125.0 632.3L1122.3 635.3L1119.5 638.3L1116.5 641.1L1113.2 643.4L1109.9 645.5L1106.9 647.9L1104.2 650.8L1101.6 653.8L1098.8 656.7L1095.7 659.3L1092.7 661.9L1089.9 664.8L1087.1 667.7L1084.1 670.3L1081.1 672.9L1078.5 675.9L1076.4 679.4L1074.5 682.9L1072.5 686.1L1069.8 688.7L1066.5 690.7L1062.8 692.2L1059.0 693.2L1055.1 694.1L1051.1 694.5L1047.1 695.1L1043.1 696.0L1039.2 697.5L1035.7 699.7L1032.5 702.2L1029.3 704.7L1026.4 707.5L1023.4 710.1L1019.6 711.0L1015.8 709.8L1012.1 708.3L1008.3 707.6L1004.6 708.3L1000.9 709.6L997.1 711.0L993.4 712.5L989.6 713.9L986.0 715.6L982.4 717.5L978.9 719.4L975.4 721.4L971.8 723.2L968.2 725.0L964.7 727.0L961.5 729.4L958.5 732.2L955.6 735.1L953.0 738.1L950.4 741.1L947.7 744.1L945.1 747.1L942.5 750.2L939.9 753.2L937.2 756.2L934.3 759.1L931.3 761.8L928.0 764.3L924.6 766.4L921.0 768.2L917.3 769.9L913.6 771.6L909.8 773.1L906.1 774.5L902.3 775.9L898.5 777.2L894.7 778.5L890.9 779.7L887.1 781.0L883.4 782.4L879.7 784.0L876.0 785.5L872.2 786.8L868.3 788.1L864.5 789.4L860.8 790.9L857.1 792.7L853.6 794.7L850.2 797.0L847.0 799.4L843.7 801.6L840.4 803.6L836.9 805.1L833.1 806.1L829.2 806.6L825.2 807.0L821.2 807.4L817.2 808.0L813.2 808.7L809.0 809.9L804.9 812.7L804.2 817.2L803.4 820.3L801.2 823.0L798.8 826.1L796.1 829.1L792.9 831.6L789.4 833.5L785.6 834.8L781.7 835.9L777.9 837.1L774.2 838.4L770.4 839.8L766.6 841.0L762.8 842.3L759.0 843.8L755.3 845.3L751.6 846.8L747.9 848.3L744.2 849.8L740.5 851.3L736.7 852.8L732.9 853.9L728.9 854.7L724.9 855.1L720.9 855.4L716.8 855.8L712.8 856.6L709.5 858.0L706.8 857.1L704.5 853.8L700.3 852.2L696.1 851.9L692.0 852.1L688.0 852.7L684.1 853.8L680.2 855.0L676.3 856.1L672.4 857.0L668.5 857.7L664.5 858.3L660.6 859.0L656.7 860.0L652.9 861.3L649.2 862.7L645.5 864.2L642.0 865.8L638.6 867.6L635.5 869.8L632.5 872.4L629.4 875.0L626.2 877.4L623.2 880.1L620.0 882.4L616.3 884.0L612.4 885.0L608.5 885.6L604.4 886.0L600.4 886.4L596.4 886.9L592.5 887.8L588.6 889.0L584.9 890.4L581.1 891.9L577.3 893.3L573.5 894.5L569.7 895.7L565.8 896.8L562.0 897.9L558.1 899.0L554.3 900.2L550.4 901.2L546.5 902.2L542.6 903.1L538.6 903.9L534.6 904.6L530.6 905.3L526.6 905.9L522.6 906.3L518.6 906.4L514.6 906.2L510.6 905.9L506.6 905.7L502.6 905.7L498.5 905.7L494.5 905.8L490.6 906.1L486.7 906.5L482.8 907.0L478.8 907.1L474.9 906.6L471.1 905.0L467.9 902.4L465.6 898.9L464.4 895.0L463.7 891.0 M463.7 891.0L463.8 887.0L464.3 883.0L465.3 879.2L466.7 875.5L467.8 871.6L468.8 867.8L469.9 863.9L471.1 860.1L472.5 856.4L474.0 852.6L475.7 848.9L477.6 845.4L480.0 842.2L482.8 839.2L485.7 836.3L488.3 833.3L490.6 829.9L492.5 826.4L494.1 822.7L495.7 818.9L497.3 815.2L499.0 811.6L500.9 808.0L502.1 804.0L502.6 800.1L503.1 796.3L504.5 792.7L507.3 790.0L510.7 787.8L514.1 785.6L516.9 782.6L519.0 779.2L520.8 775.6L522.7 772.0L524.8 768.6L527.0 765.3L529.3 762.0L531.6 758.7L533.8 755.3L535.6 751.7L537.2 748.0L538.5 744.2L539.9 740.4L541.3 736.7L543.0 733.0L545.1 729.5L547.5 726.3L550.2 723.3L552.8 720.3L555.2 717.1L557.5 713.8L559.8 710.4L562.3 707.3L565.1 704.4L568.1 701.7L571.1 699.1L574.0 696.3L576.7 693.3L579.1 690.2L581.3 686.9L583.5 683.5L585.8 680.3L588.2 677.1L590.7 673.9L593.2 670.8L595.5 667.5L597.6 664.1L599.4 660.5L601.2 656.9L603.2 653.4L605.6 650.1L608.2 647.0L610.8 644.0L613.3 640.9L615.8 637.7L618.2 634.5L620.7 631.4L623.5 628.5L626.4 625.7L629.3 622.9L632.2 620.1L635.0 617.2L637.7 614.3L640.5 611.5L643.3 608.5L645.9 605.5L648.4 602.5L651.0 599.4L653.7 596.5L656.6 593.7L659.6 591.1L662.8 588.6L666.1 586.3L669.3 583.8L672.4 581.3L675.4 578.6L678.3 575.9L681.2 573.2L684.1 570.5L687.1 567.8L690.1 565.1L693.2 562.5L696.2 559.8L699.1 557.1L701.9 554.2L704.6 551.2L707.1 548.1L709.6 545.0L712.2 541.9L715.0 539.0L718.0 536.3L721.3 534.0L724.7 531.8L728.1 529.6L731.2 527.1L734.0 524.3L736.7 521.4L739.6 518.5L742.6 516.0L745.8 513.7L749.1 511.5L752.5 509.4L755.9 507.2L759.2 505.0L762.6 502.8L766.0 500.7L769.5 498.8L773.0 496.8L776.4 494.7L779.7 492.5L783.0 490.1L786.3 487.7L789.8 485.7L793.3 483.8L796.8 482.1L800.3 480.2L803.6 478.1L806.9 475.9L810.2 473.7L813.8 471.7L817.5 470.0L821.3 468.7L825.1 467.3L828.8 465.8L832.5 464.0L836.1 462.3L839.9 460.9L843.8 459.8L847.6 458.6L851.3 457.2L854.8 455.4L858.4 453.7L862.1 452.2L865.8 451.1L869.6 449.9L873.3 448.5L876.7 446.6L880.0 444.4L883.3 442.0L886.4 439.5L889.5 436.9L892.6 434.5L895.8 432.0L898.9 429.6L901.9 427.0L905.0 424.3L908.1 421.8L911.3 419.4L914.6 417.2L918.1 415.2L921.4 413.0L924.6 410.6L927.7 408.0L930.6 405.3L933.6 402.6L936.9 400.2L940.6 398.4L944.6 397.4L948.6 397.1L952.6 397.0L956.6 396.8L960.6 396.1L964.4 395.1L968.2 393.9L971.8 392.3L975.2 390.4L978.5 388.2L981.9 386.0L985.4 384.1L989.1 382.5L992.9 381.0L996.5 379.2L999.8 377.0L1003.0 374.5L1006.2 372.0L1009.7 370.0L1013.4 368.5L1017.3 367.5L1021.2 366.6L1025.1 365.6L1028.9 364.5L1032.6 363.0L1036.3 361.3L1039.9 359.4L1043.7 357.8L1047.5 356.7L1051.5 356.2L1055.6 356.1L1059.7 356.0L1063.7 355.4L1067.5 354.3L1071.3 352.9L1075.1 351.5L1078.9 350.1L1082.6 348.8L1086.3 347.2L1090.0 345.5L1093.5 343.7L1097.1 342.0L1100.9 340.5L1104.7 339.3L1108.7 338.5L1112.6 337.9L1116.6 337.3L1120.5 336.3L1124.2 334.9L1127.9 333.2L1131.6 331.6L1135.5 330.4L1139.5 329.7L1143.6 329.9L1147.6 331.1L1151.3 332.7L1155.2 333.9L1159.4 334.1L1163.4 332.9L1167.0 331.1L1170.5 329.1L1174.0 327.1L1177.5 325.2L1181.1 323.4L1184.8 322.0L1188.7 320.9L1192.5 320.1L1196.4 319.1L1200.3 317.9L1204.0 316.5L1207.5 314.9L1210.5 313.0L1212.8 310.2L1214.3 306.7L1216.1 302.9L1219.0 299.8L1222.3 297.2L1225.9 295.2L1229.5 293.3L1233.1 291.5L1236.8 289.8L1240.5 288.2L1244.3 287.0L1248.3 286.1L1252.5 285.7L1256.4 286.8L1260.0 288.7L1263.9 288.4L1267.6 287.0L1271.2 285.3L1274.9 283.7L1278.7 282.4L1282.8 281.6L1286.8 281.1L1290.7 280.7L1294.6 279.9L1298.2 278.3L1301.1 275.8L1303.7 272.8L1306.6 269.9L1310.2 267.9L1314.3 267.5L1318.3 267.5L1322.3 267.4L1326.3 267.1L1330.3 266.6L1334.3 266.1L1338.3 265.8L1342.3 265.8L1346.3 266.1L1350.3 266.3L1354.3 266.6L1358.3 266.9L1362.3 267.5L1366.3 268.4L1370.1 269.9L1373.2 272.4 M1373.2 272.4L1373.5 276.4L1373.7 280.4L1373.9 284.4L1373.7 288.4L1373.3 292.4L1372.8 296.3L1372.4 300.3L1372.1 304.3L1371.7 308.3L1371.1 312.2L1370.4 316.1L1369.9 320.0L1369.7 324.0L1369.6 328.0L1369.2 332.0L1368.2 335.9L1366.7 339.6L1365.0 343.2L1363.2 346.8L1361.6 350.4L1360.1 354.2L1358.6 357.9L1357.0 361.5L1355.6 365.3L1354.3 369.0L1352.9 372.8L1351.3 376.5L1349.4 380.0L1347.4 383.5L1345.8 387.2L1344.6 391.0L1343.6 394.9L1342.4 398.7L1340.9 402.5L1339.2 406.1L1337.4 409.6L1335.4 413.1L1333.3 416.5L1331.1 419.9L1328.9 423.2L1326.6 426.4L1324.1 429.6L1321.5 432.6L1318.9 435.6L1316.2 438.6L1313.5 441.6L1310.8 444.6L1308.4 447.9L1306.4 451.5L1304.9 455.2L1303.5 459.0L1302.3 462.8L1301.0 466.6L1299.9 470.4L1299.1 474.4L1298.2 478.3L1297.2 482.2L1296.1 486.1L1294.5 489.9L1292.4 493.5L1290.1 496.8L1287.7 500.0L1285.2 503.2L1282.8 506.4L1280.2 509.4L1277.3 512.3L1274.3 514.9L1271.3 517.7L1268.8 520.8L1266.4 524.0L1264.2 527.3L1261.9 530.6L1259.7 534.0L1257.7 537.4L1255.5 540.8L1253.2 544.0L1250.6 547.1L1248.1 550.2L1245.9 553.5L1243.6 556.8L1241.4 560.1L1239.3 563.5L1237.2 566.9L1235.0 570.2L1232.8 573.5L1230.7 576.8L1228.7 580.2L1226.9 583.7L1225.4 587.4L1224.0 591.2L1222.5 595.0L1220.6 598.7L1218.3 602.1L1215.8 605.3L1213.1 608.3L1210.2 611.2L1207.3 613.9L1204.4 616.7L1201.7 619.7L1199.2 622.8L1196.7 625.9L1194.2 629.0L1191.4 631.9L1188.4 634.6L1185.3 637.1L1182.1 639.6L1178.8 641.9L1175.5 644.2L1172.2 646.4L1168.9 648.7L1165.8 651.1L1162.7 653.6L1159.6 656.1L1156.5 658.6L1153.3 660.8L1149.9 662.8L1146.5 664.6L1142.9 666.3L1139.4 668.0L1135.8 669.9L1132.2 671.7L1128.6 673.5L1124.9 675.2L1121.2 676.8L1117.4 678.0L1113.5 678.9L1109.4 679.4L1105.3 679.6L1101.3 679.7L1097.3 680.0L1093.4 680.5L1089.5 681.3L1085.8 683.1L1083.4 686.0L1081.3 689.6L1077.8 692.2L1073.8 693.6L1069.8 694.5L1065.8 695.2L1061.9 696.0L1058.0 697.0L1054.1 698.1L1050.3 699.1L1046.5 700.1L1042.8 701.2L1039.2 702.8L1035.7 704.7L1032.3 707.0L1029.5 709.8L1026.8 712.7L1023.5 714.2L1019.9 712.9L1016.5 710.8L1012.9 709.1L1008.8 708.9L1004.9 710.0L1001.2 711.6L997.6 713.3L994.0 715.0L990.4 716.8L986.9 718.6L983.4 720.6L980.1 722.8L976.9 725.3L973.9 727.8L970.8 730.3L967.6 732.7L964.4 735.0L961.4 737.5L958.7 740.4L956.4 743.6L954.5 747.1L952.6 750.7L950.5 754.1L948.2 757.4L945.4 760.5L942.2 763.3L938.8 765.6L935.2 767.7L931.7 769.7L928.2 771.8L924.8 773.9L921.4 776.0L918.1 778.1L914.7 780.1L911.2 782.0L907.7 783.8L904.1 785.5L900.6 787.4L897.1 789.4L893.6 791.5L890.2 793.6L886.9 795.8L883.5 798.0L880.1 800.1L876.7 802.1L873.2 804.0L869.7 805.9L866.2 808.0L862.9 810.1L859.5 812.3L856.1 814.4L852.5 816.2L848.9 818.0L845.3 819.9L841.9 822.0L838.6 824.3L835.3 826.7L832.1 829.1L828.8 831.4L825.5 833.7L822.2 836.2L819.2 839.2L816.7 842.6L814.6 845.8L812.1 848.7L809.0 851.0L805.7 853.0L802.1 854.7L798.5 856.2L794.8 857.9L791.2 859.6L787.6 861.4L784.0 863.2L780.5 865.1L777.0 867.1L773.5 868.9L769.8 870.5L765.9 871.7L762.0 872.6L758.0 873.6L754.1 874.8L750.3 876.4L746.8 878.4L743.4 880.7L740.2 883.3L737.2 885.9L734.2 888.7L731.2 891.4L728.3 894.2L725.2 896.8L722.1 899.3L718.7 901.6L715.1 903.4L711.4 905.0L707.6 906.3L703.8 907.5L700.0 908.9L696.3 910.4L692.7 912.3L689.1 914.2L685.4 915.9L681.7 917.3L677.8 918.1L673.7 918.5L669.6 918.7L665.5 918.9L661.4 919.1L657.3 919.3L653.3 919.6L649.4 920.2L645.7 921.8L642.0 923.7L638.3 925.4L634.5 926.7" fill="none" stroke="#fc3f3f" stroke-width="9.0" stroke-linejoin="round" stroke-linecap="round" shape-rendering="crispEdges"/>
<path d="M917 61.0 V1097.0 M273.5 579 H1560.5" stroke="#000" stroke-width="4" fill="none"/>
<path d="M380.5 1097.0 v-10 M488.5 1097.0 v-20 M595.5 1097.0 v-10 M702.5 1097.0 v-20 M809.5 1097.0 v-10 M917.5 1097.0 v-20 M1024.5 1097.0 v-10 M1131.5 1097.0 v-20 M1238.5 1097.0 v-10 M1346.5 1097.0 v-20 M1453.5 1097.0 v-10 M273.5 1010.5 h10.5 M273.5 924.5 h21.5 M273.5 838.5 h10.5 M273.5 751.5 h21.5 M273.5 665.5 h10.5 M273.5 579.5 h21.5 M273.5 492.5 h10.5 M273.5 406.5 h21.5 M273.5 320.5 h10.5 M273.5 233.5 h21.5 M273.5 147.5 h10.5" stroke="#000" stroke-width="5" fill="none"/>
<path d="M271 59H1563V1099H271Z M276 63V1095H1558V63Z" fill="#000" fill-rule="evenodd"/>
<rect x="367" y="88" width="263" height="140" fill="#fff" stroke="#000" stroke-width="4"/>
<path d="M373 125 H496" stroke="#000" stroke-width="2" fill="none"/>
<path d="M374.5 191.5 H494.5" stroke="#fc3f3f" stroke-width="9" stroke-linecap="round" fill="none"/>
<text x="495" y="143.9" font-size="54.8" letter-spacing="-0.8">FEM</text>
<text x="496.2" y="209.6" font-size="54.8" letter-spacing="-1.4">TEST</text>
<text x="251.8" y="81.6" font-size="68.5" text-anchor="end">600</text>
<text x="251.8" y="254.3" font-size="68.5" text-anchor="end">400</text>
<text x="251.8" y="426.9" font-size="68.5" text-anchor="end">200</text>
<text x="251.8" y="599.6" font-size="68.5" text-anchor="end">0</text>
<text x="251.8" y="772.3" font-size="68.5" text-anchor="end"><tspan font-size="77" dy="8" stroke="#000" stroke-width="0.25">−</tspan><tspan dy="-8" dx="-2.4">200</tspan></text>
<text x="251.8" y="944.9" font-size="68.5" text-anchor="end"><tspan font-size="77" dy="8" stroke="#000" stroke-width="0.25">−</tspan><tspan dy="-8" dx="-2.4">400</tspan></text>
<text x="251.8" y="1117.6" font-size="68.5" text-anchor="end"><tspan font-size="77" dy="8" stroke="#000" stroke-width="0.25">−</tspan><tspan dy="-8" dx="-2.4">600</tspan></text>
<text x="264.7" y="1172.2" font-size="68.5" text-anchor="middle"><tspan font-size="77" dy="8" stroke="#000" stroke-width="0.25">−</tspan><tspan dy="-8" dx="-2.4">60</tspan></text>
<text x="482.4" y="1172.2" font-size="68.5" text-anchor="middle"><tspan font-size="77" dy="8" stroke="#000" stroke-width="0.25">−</tspan><tspan dy="-8" dx="-2.4">40</tspan></text>
<text x="695.2" y="1172.2" font-size="68.5" text-anchor="middle"><tspan font-size="77" dy="8" stroke="#000" stroke-width="0.25">−</tspan><tspan dy="-8" dx="-2.4">20</tspan></text>
<text x="917.9" y="1172.2" font-size="68.5" text-anchor="middle">0</text>
<text x="1131.0" y="1172.2" font-size="68.5" text-anchor="middle">20</text>
<text x="1345.7" y="1172.2" font-size="68.5" text-anchor="middle">40</text>
<text x="1561.0" y="1172.2" font-size="68.5" text-anchor="middle">60</text>
<text x="917.5" y="1282.4" font-size="68.5" text-anchor="middle">Deformation (mm)</text>
<text transform="translate(64.2 550.7) rotate(-90)" font-size="68.5" text-anchor="middle">Load (kN)</text>
</svg>
</body></html>
